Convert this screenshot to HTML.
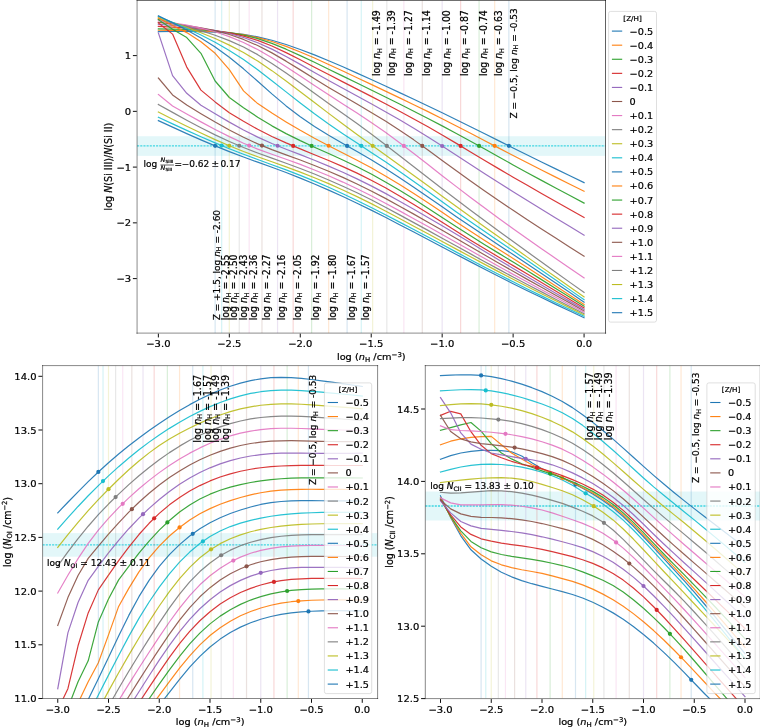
<!DOCTYPE html>
<html><head><meta charset="utf-8"><title>figure</title>
<style>html,body{margin:0;padding:0;background:#fff;}svg{display:block;}text{font-family:'DejaVu Sans', 'Liberation Sans', sans-serif;fill:#000;stroke:#000;stroke-width:0.22px;}</style></head><body>
<svg width="760" height="727" viewBox="0 0 760 727">
<rect width="760" height="727" fill="#fff"/>
<clipPath id="cT"><rect x="137.1" y="0.3" width="468.4" height="332.85"/></clipPath>
<g clip-path="url(#cT)">
<rect x="137.1" y="136.2" width="468.4" height="19.7" fill="#17becf" fill-opacity="0.12"/>
<line x1="137.1" x2="605.5" y1="145.91" y2="145.91" stroke="#2fd2df" stroke-width="1.3" stroke-dasharray="2.1 1.06" stroke-opacity="0.9"/>
<path d="M158.37 31.57 L172.56 31.44 L186.75 31.41 L200.94 31.58 L215.13 32.04 L229.32 32.92 L243.51 34.45 L257.7 36.85 L271.89 40.24 L286.08 44.5 L300.27 49.45 L314.46 54.89 L328.65 60.71 L342.84 66.8 L357.03 73.08 L371.22 79.51 L385.41 86.03 L399.6 92.64 L413.79 99.31 L427.98 106.03 L442.17 112.82 L456.36 119.69 L470.55 126.67 L484.74 133.76 L498.93 140.9 L513.12 148 L527.31 155.02 L541.5 161.97 L555.69 168.88 L569.88 175.75 L584.07 182.6" fill="none" stroke="#1f77b4" stroke-width="1.2" stroke-opacity="0.92" stroke-linejoin="round" stroke-linecap="square"/>
<line x1="508.86" x2="508.86" y1="0.3" y2="333.15" stroke="#1f77b4" stroke-width="1.2" stroke-opacity="0.18"/>
<circle cx="508.86" cy="145.87" r="2.1" fill="#1f77b4"/>
<path d="M158.37 30.27 L172.56 30.3 L186.75 30.46 L200.94 30.84 L215.13 31.57 L229.32 32.77 L243.51 34.7 L257.7 37.59 L271.89 41.54 L286.08 46.42 L300.27 52.01 L314.46 58.07 L328.65 64.45 L342.84 71.01 L357.03 77.68 L371.22 84.39 L385.41 91.12 L399.6 97.88 L413.79 104.69 L427.98 111.6 L442.17 118.67 L456.36 125.91 L470.55 133.26 L484.74 140.68 L498.93 148.1 L513.12 155.46 L527.31 162.73 L541.5 169.94 L555.69 177.09 L569.88 184.21 L584.07 191.31" fill="none" stroke="#ff7f0e" stroke-width="1.2" stroke-opacity="0.92" stroke-linejoin="round" stroke-linecap="square"/>
<line x1="494.67" x2="494.67" y1="0.3" y2="333.15" stroke="#ff7f0e" stroke-width="1.2" stroke-opacity="0.18"/>
<circle cx="494.67" cy="145.87" r="2.1" fill="#ff7f0e"/>
<path d="M158.37 28.86 L172.56 29.06 L186.75 29.39 L200.94 30 L215.13 31.02 L229.32 32.62 L243.51 35.06 L257.7 38.62 L271.89 43.4 L286.08 49.18 L300.27 55.59 L314.46 62.33 L328.65 69.23 L342.84 76.15 L357.03 83.06 L371.22 90 L385.41 96.97 L399.6 104.02 L413.79 111.17 L427.98 118.43 L442.17 125.85 L456.36 133.46 L470.55 141.22 L484.74 149.1 L498.93 157.03 L513.12 164.9 L527.31 172.67 L541.5 180.35 L555.69 187.97 L569.88 195.55 L584.07 203.11" fill="none" stroke="#2ca02c" stroke-width="1.2" stroke-opacity="0.92" stroke-linejoin="round" stroke-linecap="square"/>
<line x1="479.06" x2="479.06" y1="0.3" y2="333.15" stroke="#2ca02c" stroke-width="1.2" stroke-opacity="0.18"/>
<circle cx="479.06" cy="145.95" r="2.1" fill="#2ca02c"/>
<path d="M158.37 26.35 L172.56 27.03 L186.75 27.86 L200.94 29 L215.13 30.62 L229.32 32.88 L243.51 36.06 L257.7 40.42 L271.89 46.03 L286.08 52.64 L300.27 59.8 L314.46 67.18 L328.65 74.58 L342.84 81.87 L357.03 89.11 L371.22 96.38 L385.41 103.76 L399.6 111.27 L413.79 118.95 L427.98 126.85 L442.17 134.99 L456.36 143.37 L470.55 151.9 L484.74 160.43 L498.93 168.86 L513.12 177.17 L527.31 185.35 L541.5 193.44 L555.69 201.45 L569.88 209.42 L584.07 217.36" fill="none" stroke="#d62728" stroke-width="1.2" stroke-opacity="0.92" stroke-linejoin="round" stroke-linecap="square"/>
<line x1="460.62" x2="460.62" y1="0.3" y2="333.15" stroke="#d62728" stroke-width="1.2" stroke-opacity="0.18"/>
<circle cx="460.62" cy="145.93" r="2.1" fill="#d62728"/>
<path d="M158.37 24.44 L172.56 25.45 L186.75 26.66 L200.94 28.27 L215.13 30.48 L229.32 33.48 L243.51 37.49 L257.7 42.69 L271.89 49.1 L286.08 56.48 L300.27 64.39 L314.46 72.47 L328.65 80.51 L342.84 88.34 L357.03 96.06 L371.22 103.81 L385.41 111.71 L399.6 119.84 L413.79 128.27 L427.98 136.98 L442.17 145.99 L456.36 155.26 L470.55 164.56 L484.74 173.78 L498.93 182.83 L513.12 191.71 L527.31 200.51 L541.5 209.24 L555.69 217.92 L569.88 226.57 L584.07 235.2" fill="none" stroke="#9467bd" stroke-width="1.2" stroke-opacity="0.92" stroke-linejoin="round" stroke-linecap="square"/>
<line x1="442.17" x2="442.17" y1="0.3" y2="333.15" stroke="#9467bd" stroke-width="1.2" stroke-opacity="0.18"/>
<circle cx="442.17" cy="145.99" r="2.1" fill="#9467bd"/>
<path d="M158.37 22.43 L172.56 23.88 L186.75 25.58 L200.94 27.75 L215.13 30.66 L229.32 34.5 L243.51 39.43 L257.7 45.57 L271.89 52.89 L286.08 61.14 L300.27 69.88 L314.46 78.72 L328.65 87.42 L342.84 95.83 L357.03 104.09 L371.22 112.44 L385.41 121.08 L399.6 130.19 L413.79 139.87 L427.98 150.03 L442.17 160.41 L456.36 170.8 L470.55 181.01 L484.74 191.01 L498.93 200.79 L513.12 210.35 L527.31 219.74 L541.5 228.98 L555.69 238.12 L569.88 247.18 L584.07 256.21" fill="none" stroke="#8c564b" stroke-width="1.2" stroke-opacity="0.92" stroke-linejoin="round" stroke-linecap="square"/>
<line x1="422.3" x2="422.3" y1="0.3" y2="333.15" stroke="#8c564b" stroke-width="1.2" stroke-opacity="0.18"/>
<circle cx="422.3" cy="145.96" r="2.1" fill="#8c564b"/>
<path d="M158.37 20.72 L172.56 22.79 L186.75 25.14 L200.94 28.05 L215.13 31.78 L229.32 36.58 L243.51 42.5 L257.7 49.56 L271.89 57.68 L286.08 66.64 L300.27 76.03 L314.46 85.51 L328.65 94.87 L342.84 103.98 L357.03 113.06 L371.22 122.41 L385.41 132.24 L399.6 142.67 L413.79 153.53 L427.98 164.59 L442.17 175.66 L456.36 186.64 L470.55 197.44 L484.74 208.03 L498.93 218.45 L513.12 228.69 L527.31 238.74 L541.5 248.65 L555.69 258.43 L569.88 268.14 L584.07 277.81" fill="none" stroke="#e377c2" stroke-width="1.2" stroke-opacity="0.92" stroke-linejoin="round" stroke-linecap="square"/>
<line x1="403.86" x2="403.86" y1="0.3" y2="333.15" stroke="#e377c2" stroke-width="1.2" stroke-opacity="0.18"/>
<circle cx="403.86" cy="145.93" r="2.1" fill="#e377c2"/>
<path d="M158.37 19.24 L172.56 22.77 L186.75 26.48 L200.94 30.57 L215.13 35.24 L229.32 40.67 L243.51 47.07 L257.7 54.65 L271.89 63.39 L286.08 73.01 L300.27 83.09 L314.46 93.29 L328.65 103.45 L342.84 113.49 L357.03 123.6 L371.22 134.04 L385.41 144.81 L399.6 155.78 L413.79 166.82 L427.98 177.81 L442.17 188.7 L456.36 199.49 L470.55 210.17 L484.74 220.75 L498.93 231.21 L513.12 241.56 L527.31 251.84 L541.5 262.06 L555.69 272.23 L569.88 282.38 L584.07 292.5" fill="none" stroke="#7f7f7f" stroke-width="1.2" stroke-opacity="0.92" stroke-linejoin="round" stroke-linecap="square"/>
<line x1="386.83" x2="386.83" y1="0.3" y2="333.15" stroke="#7f7f7f" stroke-width="1.2" stroke-opacity="0.18"/>
<circle cx="386.83" cy="145.91" r="2.1" fill="#7f7f7f"/>
<path d="M158.37 17.75 L172.56 22.51 L186.75 27.44 L200.94 32.74 L215.13 38.56 L229.32 45.1 L243.51 52.55 L257.7 61.07 L271.89 70.64 L286.08 80.99 L300.27 91.73 L314.46 102.59 L328.65 113.38 L342.84 123.97 L357.03 134.41 L371.22 144.78 L385.41 155.02 L399.6 165.2 L413.79 175.41 L427.98 185.75 L442.17 196.19 L456.36 206.59 L470.55 216.84 L484.74 226.96 L498.93 237.02 L513.12 247.09 L527.31 257.12 L541.5 267.12 L555.69 277.09 L569.88 287.05 L584.07 297" fill="none" stroke="#bcbd22" stroke-width="1.2" stroke-opacity="0.92" stroke-linejoin="round" stroke-linecap="square"/>
<line x1="372.64" x2="372.64" y1="0.3" y2="333.15" stroke="#bcbd22" stroke-width="1.2" stroke-opacity="0.18"/>
<circle cx="372.64" cy="145.8" r="2.1" fill="#bcbd22"/>
<path d="M158.37 16.43 L172.56 22.33 L186.75 28.46 L200.94 35.05 L215.13 42.33 L229.32 50.49 L243.51 59.61 L257.7 69.74 L271.89 80.65 L286.08 91.9 L300.27 103.02 L314.46 113.74 L328.65 123.97 L342.84 133.69 L357.03 143.08 L371.22 152.38 L385.41 161.85 L399.6 171.55 L413.79 181.49 L427.98 191.61 L442.17 201.81 L456.36 211.94 L470.55 221.86 L484.74 231.58 L498.93 241.21 L513.12 250.84 L527.31 260.53 L541.5 270.27 L555.69 280.06 L569.88 289.87 L584.07 299.7" fill="none" stroke="#17becf" stroke-width="1.2" stroke-opacity="0.92" stroke-linejoin="round" stroke-linecap="square"/>
<line x1="361.29" x2="361.29" y1="0.3" y2="333.15" stroke="#17becf" stroke-width="1.2" stroke-opacity="0.18"/>
<circle cx="361.29" cy="145.87" r="2.1" fill="#17becf"/>
<path d="M158.37 15.89 L172.56 22.76 L186.75 30 L200.94 37.97 L215.13 46.99 L229.32 57.3 L243.51 68.83 L257.7 81.27 L271.89 93.9 L286.08 105.9 L300.27 116.77 L314.46 126.45 L328.65 135.25 L342.84 143.5 L357.03 151.56 L371.22 159.8 L385.41 168.51 L399.6 177.67 L413.79 187.16 L427.98 196.92 L442.17 206.82 L456.36 216.68 L470.55 226.34 L484.74 235.78 L498.93 245.13 L513.12 254.5 L527.31 263.93 L541.5 273.44 L555.69 283 L569.88 292.59 L584.07 302.19" fill="none" stroke="#1f77b4" stroke-width="1.2" stroke-opacity="0.92" stroke-linejoin="round" stroke-linecap="square"/>
<line x1="347.1" x2="347.1" y1="0.3" y2="333.15" stroke="#1f77b4" stroke-width="1.2" stroke-opacity="0.18"/>
<circle cx="347.1" cy="145.92" r="2.1" fill="#1f77b4"/>
<path d="M158.37 18.1 L172.56 25.5 L186.75 32.6 L200.94 41.8 L215.13 53.3 L229.32 69.6 L243.51 90.9 L257.7 103.6 L271.89 113.11 L286.08 121.91 L300.27 130.35 L314.46 138.29 L328.65 145.77 L342.84 152.94 L357.03 160.21 L371.22 167.83 L385.41 175.92 L399.6 184.47 L413.79 193.46 L427.98 202.81 L442.17 212.37 L456.36 221.93 L470.55 231.27 L484.74 240.39 L498.93 249.4 L513.12 258.41 L527.31 267.51 L541.5 276.67 L555.69 285.88 L569.88 295.13 L584.07 304.39" fill="none" stroke="#ff7f0e" stroke-width="1.2" stroke-opacity="0.92" stroke-linejoin="round" stroke-linecap="square"/>
<line x1="328.65" x2="328.65" y1="0.3" y2="333.15" stroke="#ff7f0e" stroke-width="1.2" stroke-opacity="0.18"/>
<circle cx="328.65" cy="145.77" r="2.1" fill="#ff7f0e"/>
<path d="M158.37 19.7 L172.56 29.3 L186.75 37.6 L200.94 53.3 L215.13 81 L229.32 97.5 L243.51 107.77 L257.7 117.21 L271.89 125.86 L286.08 133.61 L300.27 140.64 L314.46 147.19 L328.65 153.55 L342.84 160 L357.03 166.79 L371.22 174.09 L385.41 181.95 L399.6 190.31 L413.79 199.06 L427.98 208.15 L442.17 217.45 L456.36 226.74 L470.55 235.81 L484.74 244.65 L498.93 253.37 L513.12 262.07 L527.31 270.83 L541.5 279.63 L555.69 288.47 L569.88 297.33 L584.07 306.2" fill="none" stroke="#2ca02c" stroke-width="1.2" stroke-opacity="0.92" stroke-linejoin="round" stroke-linecap="square"/>
<line x1="311.62" x2="311.62" y1="0.3" y2="333.15" stroke="#2ca02c" stroke-width="1.2" stroke-opacity="0.18"/>
<circle cx="311.62" cy="145.88" r="2.1" fill="#2ca02c"/>
<path d="M158.37 22.9 L172.56 34.1 L186.75 67.1 L200.94 90.1 L215.13 101.9 L229.32 112.68 L243.51 121.26 L257.7 129.32 L271.89 136.51 L286.08 142.92 L300.27 148.9 L314.46 154.7 L328.65 160.55 L342.84 166.63 L357.03 173.14 L371.22 180.2 L385.41 187.83 L399.6 195.95 L413.79 204.44 L427.98 213.26 L442.17 222.3 L456.36 231.34 L470.55 240.17 L484.74 248.76 L498.93 257.21 L513.12 265.63 L527.31 274.05 L541.5 282.5 L555.69 290.96 L569.88 299.43 L584.07 307.9" fill="none" stroke="#d62728" stroke-width="1.2" stroke-opacity="0.92" stroke-linejoin="round" stroke-linecap="square"/>
<line x1="293.18" x2="293.18" y1="0.3" y2="333.15" stroke="#d62728" stroke-width="1.2" stroke-opacity="0.18"/>
<circle cx="293.18" cy="145.91" r="2.1" fill="#d62728"/>
<path d="M158.37 33 L172.56 75.6 L186.75 93.3 L200.94 105.18 L215.13 113.79 L229.32 122.14 L243.51 130 L257.7 137.15 L271.89 143.49 L286.08 149.19 L300.27 154.68 L314.46 160.29 L328.65 166.12 L342.84 172.27 L357.03 178.86 L371.22 185.9 L385.41 193.4 L399.6 201.23 L413.79 209.26 L427.98 217.46 L442.17 225.82 L456.36 234.31 L470.55 242.85 L484.74 251.42 L498.93 259.96 L513.12 268.41 L527.31 276.76 L541.5 285.02 L555.69 293.22 L569.88 301.37 L584.07 309.51" fill="none" stroke="#9467bd" stroke-width="1.2" stroke-opacity="0.92" stroke-linejoin="round" stroke-linecap="square"/>
<line x1="277.57" x2="277.57" y1="0.3" y2="333.15" stroke="#9467bd" stroke-width="1.2" stroke-opacity="0.18"/>
<circle cx="277.57" cy="145.77" r="2.1" fill="#9467bd"/>
<path d="M158.37 78 L172.56 94.9 L186.75 105.07 L200.94 113.65 L215.13 122 L229.32 129.92 L243.51 137.26 L257.7 143.87 L271.89 149.63 L286.08 154.83 L300.27 160 L314.46 165.45 L328.65 171.22 L342.84 177.36 L357.03 183.93 L371.22 190.94 L385.41 198.4 L399.6 206.18 L413.79 214.11 L427.98 222.15 L442.17 230.3 L456.36 238.52 L470.55 246.77 L484.74 255.02 L498.93 263.23 L513.12 271.35 L527.31 279.38 L541.5 287.34 L555.69 295.23 L569.88 303.08 L584.07 310.91" fill="none" stroke="#8c564b" stroke-width="1.2" stroke-opacity="0.92" stroke-linejoin="round" stroke-linecap="square"/>
<line x1="261.96" x2="261.96" y1="0.3" y2="333.15" stroke="#8c564b" stroke-width="1.2" stroke-opacity="0.18"/>
<circle cx="261.96" cy="145.6" r="2.1" fill="#8c564b"/>
<path d="M158.37 94.5 L172.56 106.04 L186.75 114.02 L200.94 121.86 L215.13 129.43 L229.32 136.59 L243.51 143.21 L257.7 149.08 L271.89 154.3 L286.08 159.28 L300.27 164.43 L314.46 169.94 L328.65 175.82 L342.84 182.08 L357.03 188.72 L371.22 195.75 L385.41 203.19 L399.6 210.9 L413.79 218.72 L427.98 226.6 L442.17 234.57 L456.36 242.58 L470.55 250.6 L484.74 258.59 L498.93 266.53 L513.12 274.36 L527.31 282.09 L541.5 289.72 L555.69 297.29 L569.88 304.81 L584.07 312.31" fill="none" stroke="#e377c2" stroke-width="1.2" stroke-opacity="0.92" stroke-linejoin="round" stroke-linecap="square"/>
<line x1="249.19" x2="249.19" y1="0.3" y2="333.15" stroke="#e377c2" stroke-width="1.2" stroke-opacity="0.18"/>
<circle cx="249.19" cy="145.56" r="2.1" fill="#e377c2"/>
<path d="M158.37 104.44 L172.56 112.37 L186.75 120.16 L200.94 127.7 L215.13 134.86 L229.32 141.5 L243.51 147.56 L257.7 153.04 L271.89 158.18 L286.08 163.23 L300.27 168.46 L314.46 174.03 L328.65 179.93 L342.84 186.19 L357.03 192.81 L371.22 199.81 L385.41 207.21 L399.6 214.86 L413.79 222.6 L427.98 230.37 L442.17 238.19 L456.36 246.04 L470.55 253.88 L484.74 261.67 L498.93 269.39 L513.12 277 L527.31 284.49 L541.5 291.88 L555.69 299.2 L569.88 306.46 L584.07 313.71" fill="none" stroke="#7f7f7f" stroke-width="1.2" stroke-opacity="0.92" stroke-linejoin="round" stroke-linecap="square"/>
<line x1="239.25" x2="239.25" y1="0.3" y2="333.15" stroke="#7f7f7f" stroke-width="1.2" stroke-opacity="0.18"/>
<circle cx="239.25" cy="145.74" r="2.1" fill="#7f7f7f"/>
<path d="M158.37 112.03 L172.56 119.17 L186.75 126.21 L200.94 133.07 L215.13 139.63 L229.32 145.81 L243.51 151.48 L257.7 156.75 L271.89 161.8 L286.08 166.84 L300.27 172.11 L314.46 177.72 L328.65 183.67 L342.84 189.97 L357.03 196.61 L371.22 203.61 L385.41 210.97 L399.6 218.56 L413.79 226.19 L427.98 233.82 L442.17 241.48 L456.36 249.14 L470.55 256.78 L484.74 264.36 L498.93 271.86 L513.12 279.25 L527.31 286.53 L541.5 293.71 L555.69 300.81 L569.88 307.87 L584.07 314.91" fill="none" stroke="#bcbd22" stroke-width="1.2" stroke-opacity="0.92" stroke-linejoin="round" stroke-linecap="square"/>
<line x1="229.32" x2="229.32" y1="0.3" y2="333.15" stroke="#bcbd22" stroke-width="1.2" stroke-opacity="0.18"/>
<circle cx="229.32" cy="145.81" r="2.1" fill="#bcbd22"/>
<path d="M158.37 117.32 L172.56 123.91 L186.75 130.42 L200.94 136.78 L215.13 142.91 L229.32 148.75 L243.51 154.27 L257.7 159.54 L271.89 164.69 L286.08 169.9 L300.27 175.37 L314.46 181.18 L328.65 187.32 L342.84 193.76 L357.03 200.46 L371.22 207.44 L385.41 214.7 L399.6 222.12 L413.79 229.55 L427.98 237.01 L442.17 244.54 L456.36 252.11 L470.55 259.66 L484.74 267.16 L498.93 274.57 L513.12 281.83 L527.31 288.92 L541.5 295.88 L555.69 302.75 L569.88 309.55 L584.07 316.31" fill="none" stroke="#17becf" stroke-width="1.2" stroke-opacity="0.92" stroke-linejoin="round" stroke-linecap="square"/>
<line x1="221.66" x2="221.66" y1="0.3" y2="333.15" stroke="#17becf" stroke-width="1.2" stroke-opacity="0.18"/>
<circle cx="221.66" cy="145.6" r="2.1" fill="#17becf"/>
<path d="M158.37 120.63 L172.56 127.14 L186.75 133.58 L200.94 139.85 L215.13 145.87 L229.32 151.57 L243.51 156.96 L257.7 162.14 L271.89 167.28 L286.08 172.55 L300.27 178.1 L314.46 183.97 L328.65 190.13 L342.84 196.56 L357.03 203.21 L371.22 210.12 L385.41 217.3 L399.6 224.66 L413.79 232.05 L427.98 239.46 L442.17 246.93 L456.36 254.41 L470.55 261.87 L484.74 269.27 L498.93 276.56 L513.12 283.71 L527.31 290.7 L541.5 297.57 L555.69 304.34 L569.88 311.04 L584.07 317.71" fill="none" stroke="#1f77b4" stroke-width="1.2" stroke-opacity="0.92" stroke-linejoin="round" stroke-linecap="square"/>
<line x1="215.13" x2="215.13" y1="0.3" y2="333.15" stroke="#1f77b4" stroke-width="1.2" stroke-opacity="0.18"/>
<circle cx="215.13" cy="145.87" r="2.1" fill="#1f77b4"/>
</g>
<text transform="translate(516.66 8.2) scale(1 0.9566) rotate(-90)" text-anchor="end" font-size="9.4">Z = −0.5, log <tspan font-style="italic">n</tspan><tspan font-size="6.6" dy="1.5">H</tspan><tspan dy="-1.5"> = -0.53</tspan></text>
<text transform="translate(502.47 10.2) scale(1 0.9566) rotate(-90)" text-anchor="end" font-size="9.78">log <tspan font-style="italic">n</tspan><tspan font-size="6.6" dy="1.5">H</tspan><tspan dy="-1.5"> = -0.63</tspan></text>
<text transform="translate(486.86 10.2) scale(1 0.9566) rotate(-90)" text-anchor="end" font-size="9.78">log <tspan font-style="italic">n</tspan><tspan font-size="6.6" dy="1.5">H</tspan><tspan dy="-1.5"> = -0.74</tspan></text>
<text transform="translate(468.42 10.2) scale(1 0.9566) rotate(-90)" text-anchor="end" font-size="9.78">log <tspan font-style="italic">n</tspan><tspan font-size="6.6" dy="1.5">H</tspan><tspan dy="-1.5"> = -0.87</tspan></text>
<text transform="translate(449.97 10.2) scale(1 0.9566) rotate(-90)" text-anchor="end" font-size="9.78">log <tspan font-style="italic">n</tspan><tspan font-size="6.6" dy="1.5">H</tspan><tspan dy="-1.5"> = -1.00</tspan></text>
<text transform="translate(430.1 10.2) scale(1 0.9566) rotate(-90)" text-anchor="end" font-size="9.78">log <tspan font-style="italic">n</tspan><tspan font-size="6.6" dy="1.5">H</tspan><tspan dy="-1.5"> = -1.14</tspan></text>
<text transform="translate(411.66 10.2) scale(1 0.9566) rotate(-90)" text-anchor="end" font-size="9.78">log <tspan font-style="italic">n</tspan><tspan font-size="6.6" dy="1.5">H</tspan><tspan dy="-1.5"> = -1.27</tspan></text>
<text transform="translate(394.63 10.2) scale(1 0.9566) rotate(-90)" text-anchor="end" font-size="9.78">log <tspan font-style="italic">n</tspan><tspan font-size="6.6" dy="1.5">H</tspan><tspan dy="-1.5"> = -1.39</tspan></text>
<text transform="translate(380.44 10.2) scale(1 0.9566) rotate(-90)" text-anchor="end" font-size="9.78">log <tspan font-style="italic">n</tspan><tspan font-size="6.6" dy="1.5">H</tspan><tspan dy="-1.5"> = -1.49</tspan></text>
<text transform="translate(369.09 320.3) scale(1 0.9566) rotate(-90)" font-size="9.78">log <tspan font-style="italic">n</tspan><tspan font-size="6.6" dy="1.5">H</tspan><tspan dy="-1.5"> = -1.57</tspan></text>
<text transform="translate(354.9 320.3) scale(1 0.9566) rotate(-90)" font-size="9.78">log <tspan font-style="italic">n</tspan><tspan font-size="6.6" dy="1.5">H</tspan><tspan dy="-1.5"> = -1.67</tspan></text>
<text transform="translate(336.45 320.3) scale(1 0.9566) rotate(-90)" font-size="9.78">log <tspan font-style="italic">n</tspan><tspan font-size="6.6" dy="1.5">H</tspan><tspan dy="-1.5"> = -1.80</tspan></text>
<text transform="translate(319.42 320.3) scale(1 0.9566) rotate(-90)" font-size="9.78">log <tspan font-style="italic">n</tspan><tspan font-size="6.6" dy="1.5">H</tspan><tspan dy="-1.5"> = -1.92</tspan></text>
<text transform="translate(300.98 320.3) scale(1 0.9566) rotate(-90)" font-size="9.78">log <tspan font-style="italic">n</tspan><tspan font-size="6.6" dy="1.5">H</tspan><tspan dy="-1.5"> = -2.05</tspan></text>
<text transform="translate(285.37 320.3) scale(1 0.9566) rotate(-90)" font-size="9.78">log <tspan font-style="italic">n</tspan><tspan font-size="6.6" dy="1.5">H</tspan><tspan dy="-1.5"> = -2.16</tspan></text>
<text transform="translate(269.76 320.3) scale(1 0.9566) rotate(-90)" font-size="9.78">log <tspan font-style="italic">n</tspan><tspan font-size="6.6" dy="1.5">H</tspan><tspan dy="-1.5"> = -2.27</tspan></text>
<text transform="translate(256.99 320.3) scale(1 0.9566) rotate(-90)" font-size="9.78">log <tspan font-style="italic">n</tspan><tspan font-size="6.6" dy="1.5">H</tspan><tspan dy="-1.5"> = -2.36</tspan></text>
<text transform="translate(247.05 320.3) scale(1 0.9566) rotate(-90)" font-size="9.78">log <tspan font-style="italic">n</tspan><tspan font-size="6.6" dy="1.5">H</tspan><tspan dy="-1.5"> = -2.43</tspan></text>
<text transform="translate(237.12 320.3) scale(1 0.9566) rotate(-90)" font-size="9.78">log <tspan font-style="italic">n</tspan><tspan font-size="6.6" dy="1.5">H</tspan><tspan dy="-1.5"> = -2.50</tspan></text>
<text transform="translate(229.46 320.3) scale(1 0.9566) rotate(-90)" font-size="9.78">log <tspan font-style="italic">n</tspan><tspan font-size="6.6" dy="1.5">H</tspan><tspan dy="-1.5"> = -2.55</tspan></text>
<text transform="translate(219.93 320.3) scale(1 0.9566) rotate(-90)" font-size="9.4">Z = +1.5, log <tspan font-style="italic">n</tspan><tspan font-size="6.6" dy="1.5">H</tspan><tspan dy="-1.5"> = -2.60</tspan></text>
<line x1="137.1" y1="0.3" x2="137.1" y2="333.15" stroke="#000" stroke-width="1.4" stroke-opacity="0.33" stroke-linecap="square"/>
<line x1="137.1" y1="333.15" x2="605.5" y2="333.15" stroke="#000" stroke-width="1.3" stroke-opacity="0.36" stroke-linecap="square"/>
<line x1="605.5" y1="0.3" x2="605.5" y2="333.15" stroke="#000" stroke-width="1.0" stroke-opacity="0.62" stroke-linecap="square"/>
<line x1="137.1" y1="0.3" x2="605.5" y2="0.3" stroke="#000" stroke-width="1.0" stroke-opacity="0.7" stroke-linecap="square"/>
<line x1="158.37" x2="158.37" y1="333.65" y2="337.45" stroke="#000" stroke-width="1" stroke-opacity="0.95"/>
<text transform="translate(158.37 347.25) scale(1 0.9566)" text-anchor="middle" font-size="10">−3.0</text>
<line x1="229.32" x2="229.32" y1="333.65" y2="337.45" stroke="#000" stroke-width="1" stroke-opacity="0.95"/>
<text transform="translate(229.32 347.25) scale(1 0.9566)" text-anchor="middle" font-size="10">−2.5</text>
<line x1="300.27" x2="300.27" y1="333.65" y2="337.45" stroke="#000" stroke-width="1" stroke-opacity="0.95"/>
<text transform="translate(300.27 347.25) scale(1 0.9566)" text-anchor="middle" font-size="10">−2.0</text>
<line x1="371.22" x2="371.22" y1="333.65" y2="337.45" stroke="#000" stroke-width="1" stroke-opacity="0.95"/>
<text transform="translate(371.22 347.25) scale(1 0.9566)" text-anchor="middle" font-size="10">−1.5</text>
<line x1="442.17" x2="442.17" y1="333.65" y2="337.45" stroke="#000" stroke-width="1" stroke-opacity="0.95"/>
<text transform="translate(442.17 347.25) scale(1 0.9566)" text-anchor="middle" font-size="10">−1.0</text>
<line x1="513.12" x2="513.12" y1="333.65" y2="337.45" stroke="#000" stroke-width="1" stroke-opacity="0.95"/>
<text transform="translate(513.12 347.25) scale(1 0.9566)" text-anchor="middle" font-size="10">−0.5</text>
<line x1="584.07" x2="584.07" y1="333.65" y2="337.45" stroke="#000" stroke-width="1" stroke-opacity="0.95"/>
<text transform="translate(584.07 347.25) scale(1 0.9566)" text-anchor="middle" font-size="10">0.0</text>
<line x1="132.9" x2="136.8" y1="55.6" y2="55.6" stroke="#000" stroke-width="1" stroke-opacity="0.95"/>
<text transform="translate(131.1 59.2) scale(1 0.9566)" text-anchor="end" font-size="10">1</text>
<line x1="132.9" x2="136.8" y1="111.35" y2="111.35" stroke="#000" stroke-width="1" stroke-opacity="0.95"/>
<text transform="translate(131.1 114.95) scale(1 0.9566)" text-anchor="end" font-size="10">0</text>
<line x1="132.9" x2="136.8" y1="167.1" y2="167.1" stroke="#000" stroke-width="1" stroke-opacity="0.95"/>
<text transform="translate(131.1 170.7) scale(1 0.9566)" text-anchor="end" font-size="10">−1</text>
<line x1="132.9" x2="136.8" y1="222.85" y2="222.85" stroke="#000" stroke-width="1" stroke-opacity="0.95"/>
<text transform="translate(131.1 226.45) scale(1 0.9566)" text-anchor="end" font-size="10">−2</text>
<line x1="132.9" x2="136.8" y1="278.6" y2="278.6" stroke="#000" stroke-width="1" stroke-opacity="0.95"/>
<text transform="translate(131.1 282.2) scale(1 0.9566)" text-anchor="end" font-size="10">−3</text>
<text transform="translate(371.3 360.2) scale(1 0.9566)" text-anchor="middle" font-size="9.8">log (<tspan font-style="italic">n</tspan><tspan font-size="7" dy="1.6">H</tspan><tspan dy="-1.6"> /cm</tspan><tspan font-size="7" dy="-3.8">−3</tspan><tspan dy="3.8">)</tspan></text>
<text transform="translate(112.3 166.6) scale(1 0.9566) rotate(-90)" text-anchor="middle" font-size="10">log <tspan font-style="italic">N</tspan>(Si III)/<tspan font-style="italic">N</tspan>(Si II)</text>
<text transform="translate(143.45 167) scale(1 0.9566)" font-size="9">log</text>
<text transform="translate(160.5 161.9) scale(1 0.9566)" font-size="6.3"><tspan font-style="italic">N</tspan><tspan font-size="4.4" dy="1.0" dx="0.2">SiIII</tspan></text>
<line x1="160.4" x2="173.9" y1="165.0" y2="165.0" stroke="#000" stroke-width="0.6"/>
<text transform="translate(160.5 170.1) scale(1 0.9566)" font-size="6.3"><tspan font-style="italic">N</tspan><tspan font-size="4.4" dy="1.0" dx="0.2">SiII</tspan></text>
<text transform="translate(174.6 167) scale(1 0.9566)" font-size="9">=</text>
<text transform="translate(181.7 167) scale(1 0.9566)" font-size="9">−0.62</text>
<text transform="translate(211.45 167) scale(1 0.9566)" font-size="9">±</text>
<text transform="translate(220.4 167) scale(1 0.9566)" font-size="9">0.17</text>
<rect x="608.6" y="11.4" width="47.9" height="310.7" rx="2" ry="2" fill="#fff" fill-opacity="0.8" stroke="#ccc" stroke-opacity="0.8" stroke-width="0.8"/>
<text transform="translate(632.55 20.6) scale(1 0.9566)" text-anchor="middle" font-size="7.2">[Z/H]</text>
<line x1="611.9" x2="622.2" y1="31.1" y2="31.1" stroke="#1f77b4" stroke-width="1.1"/>
<text transform="translate(629.6 34.55) scale(1 0.9566)" font-size="9.7">−0.5</text>
<line x1="611.9" x2="622.2" y1="45.18" y2="45.18" stroke="#ff7f0e" stroke-width="1.1"/>
<text transform="translate(629.6 48.63) scale(1 0.9566)" font-size="9.7">−0.4</text>
<line x1="611.9" x2="622.2" y1="59.26" y2="59.26" stroke="#2ca02c" stroke-width="1.1"/>
<text transform="translate(629.6 62.71) scale(1 0.9566)" font-size="9.7">−0.3</text>
<line x1="611.9" x2="622.2" y1="73.34" y2="73.34" stroke="#d62728" stroke-width="1.1"/>
<text transform="translate(629.6 76.79) scale(1 0.9566)" font-size="9.7">−0.2</text>
<line x1="611.9" x2="622.2" y1="87.42" y2="87.42" stroke="#9467bd" stroke-width="1.1"/>
<text transform="translate(629.6 90.87) scale(1 0.9566)" font-size="9.7">−0.1</text>
<line x1="611.9" x2="622.2" y1="101.5" y2="101.5" stroke="#8c564b" stroke-width="1.1"/>
<text transform="translate(629.6 104.95) scale(1 0.9566)" font-size="9.7">0</text>
<line x1="611.9" x2="622.2" y1="115.58" y2="115.58" stroke="#e377c2" stroke-width="1.1"/>
<text transform="translate(629.6 119.03) scale(1 0.9566)" font-size="9.7">+0.1</text>
<line x1="611.9" x2="622.2" y1="129.66" y2="129.66" stroke="#7f7f7f" stroke-width="1.1"/>
<text transform="translate(629.6 133.11) scale(1 0.9566)" font-size="9.7">+0.2</text>
<line x1="611.9" x2="622.2" y1="143.74" y2="143.74" stroke="#bcbd22" stroke-width="1.1"/>
<text transform="translate(629.6 147.19) scale(1 0.9566)" font-size="9.7">+0.3</text>
<line x1="611.9" x2="622.2" y1="157.82" y2="157.82" stroke="#17becf" stroke-width="1.1"/>
<text transform="translate(629.6 161.27) scale(1 0.9566)" font-size="9.7">+0.4</text>
<line x1="611.9" x2="622.2" y1="171.9" y2="171.9" stroke="#1f77b4" stroke-width="1.1"/>
<text transform="translate(629.6 175.35) scale(1 0.9566)" font-size="9.7">+0.5</text>
<line x1="611.9" x2="622.2" y1="185.98" y2="185.98" stroke="#ff7f0e" stroke-width="1.1"/>
<text transform="translate(629.6 189.43) scale(1 0.9566)" font-size="9.7">+0.6</text>
<line x1="611.9" x2="622.2" y1="200.06" y2="200.06" stroke="#2ca02c" stroke-width="1.1"/>
<text transform="translate(629.6 203.51) scale(1 0.9566)" font-size="9.7">+0.7</text>
<line x1="611.9" x2="622.2" y1="214.14" y2="214.14" stroke="#d62728" stroke-width="1.1"/>
<text transform="translate(629.6 217.59) scale(1 0.9566)" font-size="9.7">+0.8</text>
<line x1="611.9" x2="622.2" y1="228.22" y2="228.22" stroke="#9467bd" stroke-width="1.1"/>
<text transform="translate(629.6 231.67) scale(1 0.9566)" font-size="9.7">+0.9</text>
<line x1="611.9" x2="622.2" y1="242.3" y2="242.3" stroke="#8c564b" stroke-width="1.1"/>
<text transform="translate(629.6 245.75) scale(1 0.9566)" font-size="9.7">+1.0</text>
<line x1="611.9" x2="622.2" y1="256.38" y2="256.38" stroke="#e377c2" stroke-width="1.1"/>
<text transform="translate(629.6 259.83) scale(1 0.9566)" font-size="9.7">+1.1</text>
<line x1="611.9" x2="622.2" y1="270.46" y2="270.46" stroke="#7f7f7f" stroke-width="1.1"/>
<text transform="translate(629.6 273.91) scale(1 0.9566)" font-size="9.7">+1.2</text>
<line x1="611.9" x2="622.2" y1="284.54" y2="284.54" stroke="#bcbd22" stroke-width="1.1"/>
<text transform="translate(629.6 287.99) scale(1 0.9566)" font-size="9.7">+1.3</text>
<line x1="611.9" x2="622.2" y1="298.62" y2="298.62" stroke="#17becf" stroke-width="1.1"/>
<text transform="translate(629.6 302.07) scale(1 0.9566)" font-size="9.7">+1.4</text>
<line x1="611.9" x2="622.2" y1="312.7" y2="312.7" stroke="#1f77b4" stroke-width="1.1"/>
<text transform="translate(629.6 316.15) scale(1 0.9566)" font-size="9.7">+1.5</text>
<clipPath id="cL"><rect x="42.6" y="365.6" width="335" height="332.9"/></clipPath>
<g clip-path="url(#cL)">
<rect x="42.6" y="533.1" width="335" height="23.63" fill="#17becf" fill-opacity="0.12"/>
<line x1="42.6" x2="377.6" y1="544.92" y2="544.92" stroke="#2fd2df" stroke-width="1.3" stroke-dasharray="2.1 1.06" stroke-opacity="0.9"/>
<path d="M57.75 834 L67.9 821.24 L78.05 808.48 L88.2 795.7 L98.35 782.9 L108.5 770.08 L118.65 757.23 L128.8 744.34 L138.95 731.4 L149.1 718.42 L159.25 705.39 L169.4 692.29 L179.55 679.37 L189.7 667.2 L199.85 656.33 L210 646.98 L220.15 639.1 L230.3 632.54 L240.45 627.14 L250.6 622.75 L260.75 619.23 L270.9 616.47 L281.05 614.39 L291.2 612.89 L301.35 611.88 L311.5 611.25 L321.65 610.91 L331.8 610.76 L341.95 610.73 L352.1 610.79 L362.25 610.89" fill="none" stroke="#1f77b4" stroke-width="1.2" stroke-opacity="0.92" stroke-linejoin="round" stroke-linecap="square"/>
<line x1="308.45" x2="308.45" y1="365.6" y2="698.5" stroke="#1f77b4" stroke-width="1.2" stroke-opacity="0.18"/>
<circle cx="308.45" cy="611.44" r="2.1" fill="#1f77b4"/>
<path d="M57.75 830 L67.9 816.74 L78.05 803.46 L88.2 790.16 L98.35 776.83 L108.5 763.44 L118.65 749.99 L128.8 736.47 L138.95 722.87 L149.1 709.17 L159.25 695.36 L169.4 681.55 L179.55 668.21 L189.7 655.85 L199.85 644.91 L210 635.54 L220.15 627.67 L230.3 621.16 L240.45 615.82 L250.6 611.47 L260.75 607.97 L270.9 605.24 L281.05 603.18 L291.2 601.72 L301.35 600.78 L311.5 600.25 L321.65 600 L331.8 599.91 L341.95 599.91 L352.1 599.99 L362.25 600.09" fill="none" stroke="#ff7f0e" stroke-width="1.2" stroke-opacity="0.92" stroke-linejoin="round" stroke-linecap="square"/>
<line x1="298.31" x2="298.31" y1="365.6" y2="698.5" stroke="#ff7f0e" stroke-width="1.2" stroke-opacity="0.18"/>
<circle cx="298.31" cy="601.07" r="2.1" fill="#ff7f0e"/>
<path d="M57.75 826 L67.9 812.09 L78.05 798.15 L88.2 784.18 L98.35 770.16 L108.5 756.08 L118.65 741.92 L128.8 727.66 L138.95 713.29 L149.1 698.78 L159.25 684.19 L169.4 669.87 L179.55 656.28 L189.7 643.91 L199.85 633.1 L210 623.88 L220.15 616.13 L230.3 609.7 L240.45 604.39 L250.6 600.06 L260.75 596.57 L270.9 593.84 L281.05 591.82 L291.2 590.44 L301.35 589.6 L311.5 589.15 L321.65 588.96 L331.8 588.9 L341.95 588.92 L352.1 588.99 L362.25 589.09" fill="none" stroke="#2ca02c" stroke-width="1.2" stroke-opacity="0.92" stroke-linejoin="round" stroke-linecap="square"/>
<line x1="287.14" x2="287.14" y1="365.6" y2="698.5" stroke="#2ca02c" stroke-width="1.2" stroke-opacity="0.18"/>
<circle cx="287.14" cy="590.99" r="2.1" fill="#2ca02c"/>
<path d="M57.75 822.01 L67.9 807.31 L78.05 792.6 L88.2 777.85 L98.35 763.04 L108.5 748.14 L118.65 733.15 L128.8 718.03 L138.95 702.78 L149.1 687.38 L159.25 672.1 L169.4 657.38 L179.55 643.68 L189.7 631.39 L199.85 620.74 L210 611.69 L220.15 604.08 L230.3 597.75 L240.45 592.55 L250.6 588.34 L260.75 584.99 L270.9 582.44 L281.05 580.63 L291.2 579.46 L301.35 578.78 L311.5 578.45 L321.65 578.34 L331.8 578.32 L341.95 578.35 L352.1 578.41 L362.25 578.5" fill="none" stroke="#d62728" stroke-width="1.2" stroke-opacity="0.92" stroke-linejoin="round" stroke-linecap="square"/>
<line x1="273.94" x2="273.94" y1="365.6" y2="698.5" stroke="#d62728" stroke-width="1.2" stroke-opacity="0.18"/>
<circle cx="273.94" cy="581.9" r="2.1" fill="#d62728"/>
<path d="M57.75 818 L67.9 802.37 L78.05 786.72 L88.2 771.04 L98.35 755.32 L108.5 739.54 L118.65 723.69 L128.8 707.76 L138.95 691.73 L149.1 675.73 L159.25 660.13 L169.4 645.29 L179.55 631.58 L189.7 619.34 L199.85 608.72 L210 599.68 L220.15 592.02 L230.3 585.63 L240.45 580.38 L250.6 576.14 L260.75 572.85 L270.9 570.47 L281.05 568.88 L291.2 567.93 L301.35 567.45 L311.5 567.31 L321.65 567.33 L331.8 567.4 L341.95 567.46 L352.1 567.53 L362.25 567.6" fill="none" stroke="#9467bd" stroke-width="1.2" stroke-opacity="0.92" stroke-linejoin="round" stroke-linecap="square"/>
<line x1="260.75" x2="260.75" y1="365.6" y2="698.5" stroke="#9467bd" stroke-width="1.2" stroke-opacity="0.18"/>
<circle cx="260.75" cy="572.85" r="2.1" fill="#9467bd"/>
<path d="M57.75 811.99 L67.9 795.36 L78.05 778.74 L88.2 762.16 L98.35 745.62 L108.5 729.16 L118.65 712.78 L128.8 696.5 L138.95 680.38 L149.1 664.52 L159.25 649.08 L169.4 634.21 L179.55 620.19 L189.7 607.62 L199.85 596.8 L210 587.66 L220.15 580.03 L230.3 573.75 L240.45 568.7 L250.6 564.74 L260.75 561.73 L270.9 559.55 L281.05 558.06 L291.2 557.14 L301.35 556.64 L311.5 556.45 L321.65 556.42 L331.8 556.45 L341.95 556.49 L352.1 556.54 L362.25 556.6" fill="none" stroke="#8c564b" stroke-width="1.2" stroke-opacity="0.92" stroke-linejoin="round" stroke-linecap="square"/>
<line x1="246.54" x2="246.54" y1="365.6" y2="698.5" stroke="#8c564b" stroke-width="1.2" stroke-opacity="0.18"/>
<circle cx="246.54" cy="566.32" r="2.1" fill="#8c564b"/>
<path d="M57.75 804.98 L67.9 787.21 L78.05 769.51 L88.2 751.92 L98.35 734.53 L108.5 717.38 L118.65 700.54 L128.8 684.07 L138.95 667.96 L149.1 652.22 L159.25 636.85 L169.4 621.99 L179.55 608.05 L189.7 595.57 L199.85 584.8 L210 575.72 L220.15 568.17 L230.3 562.01 L240.45 557.09 L250.6 553.27 L260.75 550.38 L270.9 548.3 L281.05 546.9 L291.2 546.03 L301.35 545.59 L311.5 545.42 L321.65 545.42 L331.8 545.45 L341.95 545.5 L352.1 545.55 L362.25 545.6" fill="none" stroke="#e377c2" stroke-width="1.2" stroke-opacity="0.92" stroke-linejoin="round" stroke-linecap="square"/>
<line x1="233.34" x2="233.34" y1="365.6" y2="698.5" stroke="#e377c2" stroke-width="1.2" stroke-opacity="0.18"/>
<circle cx="233.34" cy="560.53" r="2.1" fill="#e377c2"/>
<path d="M57.75 799.97 L67.9 780.86 L78.05 761.84 L88.2 743.01 L98.35 724.45 L108.5 706.25 L118.65 688.51 L128.8 671.31 L138.95 654.69 L149.1 638.58 L159.25 622.89 L169.4 607.88 L179.55 594.09 L189.7 581.92 L199.85 571.56 L210 562.92 L220.15 555.84 L230.3 550.17 L240.45 545.69 L250.6 542.21 L260.75 539.55 L270.9 537.6 L281.05 536.24 L291.2 535.38 L301.35 534.89 L311.5 534.66 L321.65 534.6 L331.8 534.59 L341.95 534.61 L352.1 534.65 L362.25 534.7" fill="none" stroke="#7f7f7f" stroke-width="1.2" stroke-opacity="0.92" stroke-linejoin="round" stroke-linecap="square"/>
<line x1="221.17" x2="221.17" y1="365.6" y2="698.5" stroke="#7f7f7f" stroke-width="1.2" stroke-opacity="0.18"/>
<circle cx="221.17" cy="555.27" r="2.1" fill="#7f7f7f"/>
<path d="M57.75 789.96 L67.9 769.64 L78.05 749.46 L88.2 729.55 L98.35 710.07 L108.5 691.14 L118.65 672.83 L128.8 655.12 L138.95 638.03 L149.1 621.59 L159.25 605.98 L169.4 591.54 L179.55 578.59 L189.7 567.32 L199.85 557.78 L210 549.94 L220.15 543.66 L230.3 538.72 L240.45 534.85 L250.6 531.79 L260.75 529.36 L270.9 527.48 L281.05 526.08 L291.2 525.08 L301.35 524.42 L311.5 524 L321.65 523.77 L331.8 523.66 L341.95 523.63 L352.1 523.65 L362.25 523.69" fill="none" stroke="#bcbd22" stroke-width="1.2" stroke-opacity="0.92" stroke-linejoin="round" stroke-linecap="square"/>
<line x1="211.02" x2="211.02" y1="365.6" y2="698.5" stroke="#bcbd22" stroke-width="1.2" stroke-opacity="0.18"/>
<circle cx="211.02" cy="549.31" r="2.1" fill="#bcbd22"/>
<path d="M57.75 774.99 L67.9 754.94 L78.05 734.9 L88.2 714.91 L98.35 694.97 L108.5 675.12 L118.65 655.43 L128.8 636.35 L138.95 618.42 L149.1 601.98 L159.25 587.14 L169.4 573.87 L179.55 562.18 L189.7 552.07 L199.85 543.53 L210 536.55 L220.15 530.97 L230.3 526.57 L240.45 523.09 L250.6 520.31 L260.75 518.06 L270.9 516.28 L281.05 514.92 L291.2 513.91 L301.35 513.2 L311.5 512.73 L321.65 512.45 L331.8 512.3 L341.95 512.24 L352.1 512.25 L362.25 512.29" fill="none" stroke="#17becf" stroke-width="1.2" stroke-opacity="0.92" stroke-linejoin="round" stroke-linecap="square"/>
<line x1="202.89" x2="202.89" y1="365.6" y2="698.5" stroke="#17becf" stroke-width="1.2" stroke-opacity="0.18"/>
<circle cx="202.89" cy="541.44" r="2.1" fill="#17becf"/>
<path d="M57.75 760.04 L67.9 740.02 L78.05 719.89 L88.2 699.52 L98.35 678.77 L108.5 657.47 L118.65 636.02 L128.8 615.4 L138.95 596.67 L149.1 580.37 L159.25 566.45 L169.4 554.65 L179.55 544.61 L189.7 536.03 L199.85 528.79 L210 522.74 L220.15 517.7 L230.3 513.51 L240.45 509.99 L250.6 506.96 L260.75 504.46 L270.9 502.67 L281.05 501.52 L291.2 500.9 L301.35 500.65 L311.5 500.65 L321.65 500.75 L331.8 500.85 L341.95 500.92 L352.1 500.97 L362.25 501" fill="none" stroke="#1f77b4" stroke-width="1.2" stroke-opacity="0.92" stroke-linejoin="round" stroke-linecap="square"/>
<line x1="192.75" x2="192.75" y1="365.6" y2="698.5" stroke="#1f77b4" stroke-width="1.2" stroke-opacity="0.18"/>
<circle cx="192.75" cy="533.86" r="2.1" fill="#1f77b4"/>
<path d="M57.75 745 L67.9 724.09 L78.05 703 L88.2 681.7 L98.35 662.8 L108.5 634.9 L118.65 606.42 L128.8 588.38 L138.95 571.89 L149.1 557.82 L159.25 546.07 L169.4 536.05 L179.55 527.44 L189.7 520.07 L199.85 513.84 L210 508.61 L220.15 504.25 L230.3 500.6 L240.45 497.53 L250.6 494.89 L260.75 492.72 L270.9 491.15 L281.05 490.13 L291.2 489.56 L301.35 489.31 L311.5 489.27 L321.65 489.33 L331.8 489.4 L341.95 489.44 L352.1 489.48 L362.25 489.5" fill="none" stroke="#ff7f0e" stroke-width="1.2" stroke-opacity="0.92" stroke-linejoin="round" stroke-linecap="square"/>
<line x1="179.55" x2="179.55" y1="365.6" y2="698.5" stroke="#ff7f0e" stroke-width="1.2" stroke-opacity="0.18"/>
<circle cx="179.55" cy="527.44" r="2.1" fill="#ff7f0e"/>
<path d="M57.75 730 L67.9 708 L78.05 681.7 L88.2 660.8 L98.35 621.9 L108.5 599 L118.65 579.86 L128.8 566.3 L138.95 553.22 L149.1 541.08 L159.25 530.15 L169.4 520.46 L179.55 512.05 L189.7 504.91 L199.85 499.01 L210 494.18 L220.15 490.26 L230.3 487.11 L240.45 484.57 L250.6 482.48 L260.75 480.79 L270.9 479.56 L281.05 478.73 L291.2 478.22 L301.35 477.96 L311.5 477.87 L321.65 477.87 L331.8 477.9 L341.95 477.93 L352.1 477.96 L362.25 478" fill="none" stroke="#2ca02c" stroke-width="1.2" stroke-opacity="0.92" stroke-linejoin="round" stroke-linecap="square"/>
<line x1="167.37" x2="167.37" y1="365.6" y2="698.5" stroke="#2ca02c" stroke-width="1.2" stroke-opacity="0.18"/>
<circle cx="167.37" cy="522.4" r="2.1" fill="#2ca02c"/>
<path d="M57.75 710 L67.9 688.7 L78.05 645.8 L88.2 612.9 L98.35 589.88 L108.5 575.08 L118.65 560.66 L128.8 547.02 L138.95 534.51 L149.1 523.28 L159.25 513.41 L169.4 504.86 L179.55 497.47 L189.7 491.09 L199.85 485.59 L210 480.93 L220.15 477.02 L230.3 473.81 L240.45 471.23 L250.6 469.23 L260.75 467.74 L270.9 466.69 L281.05 466.01 L291.2 465.62 L301.35 465.45 L311.5 465.42 L321.65 465.45 L331.8 465.48 L341.95 465.5 L352.1 465.5 L362.25 465.5" fill="none" stroke="#d62728" stroke-width="1.2" stroke-opacity="0.92" stroke-linejoin="round" stroke-linecap="square"/>
<line x1="154.18" x2="154.18" y1="365.6" y2="698.5" stroke="#d62728" stroke-width="1.2" stroke-opacity="0.18"/>
<circle cx="154.18" cy="518.35" r="2.1" fill="#d62728"/>
<path d="M57.75 688.7 L67.9 632.9 L78.05 602.5 L88.2 580.37 L98.35 566.46 L108.5 552.98 L118.65 540.34 L128.8 528.73 L138.95 518.08 L149.1 508.34 L159.25 499.47 L169.4 491.47 L179.55 484.31 L189.7 478.01 L199.85 472.53 L210 467.83 L220.15 463.87 L230.3 460.61 L240.45 458.01 L250.6 456.01 L260.75 454.59 L270.9 453.68 L281.05 453.2 L291.2 453.04 L301.35 453.08 L311.5 453.23 L321.65 453.38 L331.8 453.44 L341.95 453.42 L352.1 453.33 L362.25 453.21" fill="none" stroke="#9467bd" stroke-width="1.2" stroke-opacity="0.92" stroke-linejoin="round" stroke-linecap="square"/>
<line x1="143.01" x2="143.01" y1="365.6" y2="698.5" stroke="#9467bd" stroke-width="1.2" stroke-opacity="0.18"/>
<circle cx="143.01" cy="514.19" r="2.1" fill="#9467bd"/>
<path d="M57.75 625.5 L67.9 597.6 L78.05 575.5 L88.2 558.39 L98.35 546.11 L108.5 534.19 L118.65 522.8 L128.8 512.11 L138.95 502.23 L149.1 493.21 L159.25 485.01 L169.4 477.6 L179.55 470.95 L189.7 465.02 L199.85 459.8 L210 455.26 L220.15 451.38 L230.3 448.14 L240.45 445.52 L250.6 443.51 L260.75 442.08 L270.9 441.21 L281.05 440.78 L291.2 440.7 L301.35 440.84 L311.5 441.09 L321.65 441.34 L331.8 441.5 L341.95 441.56 L352.1 441.55 L362.25 441.51" fill="none" stroke="#8c564b" stroke-width="1.2" stroke-opacity="0.92" stroke-linejoin="round" stroke-linecap="square"/>
<line x1="131.84" x2="131.84" y1="365.6" y2="698.5" stroke="#8c564b" stroke-width="1.2" stroke-opacity="0.18"/>
<circle cx="131.84" cy="509.14" r="2.1" fill="#8c564b"/>
<path d="M57.75 593 L67.9 575.31 L78.05 558.57 L88.2 543.41 L98.35 530.09 L108.5 518.3 L118.65 507.69 L128.8 497.92 L138.95 488.82 L149.1 480.39 L159.25 472.62 L169.4 465.5 L179.55 459.01 L189.7 453.15 L199.85 447.92 L210 443.3 L220.15 439.31 L230.3 435.94 L240.45 433.19 L250.6 431.06 L260.75 429.55 L270.9 428.65 L281.05 428.24 L291.2 428.23 L301.35 428.48 L311.5 428.89 L321.65 429.33 L331.8 429.71 L341.95 430.02 L352.1 430.27 L362.25 430.51" fill="none" stroke="#e377c2" stroke-width="1.2" stroke-opacity="0.92" stroke-linejoin="round" stroke-linecap="square"/>
<line x1="122.71" x2="122.71" y1="365.6" y2="698.5" stroke="#e377c2" stroke-width="1.2" stroke-opacity="0.18"/>
<circle cx="122.71" cy="503.78" r="2.1" fill="#e377c2"/>
<path d="M57.75 565.81 L67.9 551.93 L78.05 538.65 L88.2 526.23 L98.35 514.7 L108.5 504.04 L118.65 494.08 L128.8 484.66 L138.95 475.78 L149.1 467.46 L159.25 459.73 L169.4 452.62 L179.55 446.14 L189.7 440.33 L199.85 435.18 L210 430.69 L220.15 426.83 L230.3 423.61 L240.45 420.99 L250.6 418.96 L260.75 417.51 L270.9 416.62 L281.05 416.21 L291.2 416.18 L301.35 416.47 L311.5 416.97 L321.65 417.6 L331.8 418.29 L341.95 419.01 L352.1 419.75 L362.25 420.5" fill="none" stroke="#7f7f7f" stroke-width="1.2" stroke-opacity="0.92" stroke-linejoin="round" stroke-linecap="square"/>
<line x1="115.6" x2="115.6" y1="365.6" y2="698.5" stroke="#7f7f7f" stroke-width="1.2" stroke-opacity="0.18"/>
<circle cx="115.6" cy="497.07" r="2.1" fill="#7f7f7f"/>
<path d="M57.75 547.32 L67.9 534.72 L78.05 522.4 L88.2 510.64 L98.35 499.62 L108.5 489.21 L118.65 479.26 L128.8 469.81 L138.95 460.98 L149.1 452.87 L159.25 445.57 L169.4 439.08 L179.55 433.24 L189.7 427.95 L199.85 423.12 L210 418.79 L220.15 414.97 L230.3 411.68 L240.45 408.95 L250.6 406.8 L260.75 405.26 L270.9 404.31 L281.05 403.89 L291.2 403.91 L301.35 404.25 L311.5 404.84 L321.65 405.56 L331.8 406.34 L341.95 407.14 L352.1 407.97 L362.25 408.8" fill="none" stroke="#bcbd22" stroke-width="1.2" stroke-opacity="0.92" stroke-linejoin="round" stroke-linecap="square"/>
<line x1="108.5" x2="108.5" y1="365.6" y2="698.5" stroke="#bcbd22" stroke-width="1.2" stroke-opacity="0.18"/>
<circle cx="108.5" cy="489.21" r="2.1" fill="#bcbd22"/>
<path d="M57.75 529.2 L67.9 517.67 L78.05 506.47 L88.2 495.76 L98.35 485.57 L108.5 475.87 L118.65 466.67 L128.8 457.98 L138.95 449.8 L149.1 442.13 L159.25 435 L169.4 428.37 L179.55 422.24 L189.7 416.57 L199.85 411.36 L210 406.65 L220.15 402.47 L230.3 398.86 L240.45 395.84 L250.6 393.44 L260.75 391.72 L270.9 390.66 L281.05 390.2 L291.2 390.22 L301.35 390.62 L311.5 391.29 L321.65 392.13 L331.8 393.05 L341.95 394.01 L352.1 395 L362.25 396" fill="none" stroke="#17becf" stroke-width="1.2" stroke-opacity="0.92" stroke-linejoin="round" stroke-linecap="square"/>
<line x1="103.02" x2="103.02" y1="365.6" y2="698.5" stroke="#17becf" stroke-width="1.2" stroke-opacity="0.18"/>
<circle cx="103.02" cy="481.11" r="2.1" fill="#17becf"/>
<path d="M57.75 512.81 L67.9 502.23 L78.05 491.81 L88.2 481.67 L98.35 471.95 L108.5 462.74 L118.65 454.03 L128.8 445.78 L138.95 437.97 L149.1 430.56 L159.25 423.5 L169.4 416.81 L179.55 410.52 L189.7 404.65 L199.85 399.25 L210 394.36 L220.15 390.01 L230.3 386.24 L240.45 383.09 L250.6 380.59 L260.75 378.8 L270.9 377.72 L281.05 377.35 L291.2 377.63 L301.35 378.4 L311.5 379.52 L321.65 380.83 L331.8 382.2 L341.95 383.59 L352.1 384.99 L362.25 386.4" fill="none" stroke="#1f77b4" stroke-width="1.2" stroke-opacity="0.92" stroke-linejoin="round" stroke-linecap="square"/>
<line x1="98.35" x2="98.35" y1="365.6" y2="698.5" stroke="#1f77b4" stroke-width="1.2" stroke-opacity="0.18"/>
<circle cx="98.35" cy="471.95" r="2.1" fill="#1f77b4"/>
</g>
<text transform="translate(200.55 374.8) scale(1 0.9566) rotate(-90)" text-anchor="end" font-size="10.1">log <tspan font-style="italic">n</tspan><tspan font-size="6.6" dy="1.5">H</tspan><tspan dy="-1.5"> = -1.67</tspan></text>
<text transform="translate(210.69 374.8) scale(1 0.9566) rotate(-90)" text-anchor="end" font-size="10.1">log <tspan font-style="italic">n</tspan><tspan font-size="6.6" dy="1.5">H</tspan><tspan dy="-1.5"> = -1.57</tspan></text>
<text transform="translate(218.82 374.8) scale(1 0.9566) rotate(-90)" text-anchor="end" font-size="10.1">log <tspan font-style="italic">n</tspan><tspan font-size="6.6" dy="1.5">H</tspan><tspan dy="-1.5"> = -1.49</tspan></text>
<text transform="translate(228.97 374.8) scale(1 0.9566) rotate(-90)" text-anchor="end" font-size="10.1">log <tspan font-style="italic">n</tspan><tspan font-size="6.6" dy="1.5">H</tspan><tspan dy="-1.5"> = -1.39</tspan></text>
<text transform="translate(316.25 374.7) scale(1 0.9566) rotate(-90)" text-anchor="end" font-size="9.4">Z = −0.5, log <tspan font-style="italic">n</tspan><tspan font-size="6.6" dy="1.5">H</tspan><tspan dy="-1.5"> = -0.53</tspan></text>
<text transform="translate(46.9 566.2) scale(1 0.9566)" font-size="9.1">log <tspan font-style="italic">N</tspan><tspan font-size="6.3" dy="1.5">OI</tspan><tspan dy="-1.5"> = 12.43 ± 0.11</tspan></text>
<rect x="324.4" y="382.9" width="47.3" height="310.7" rx="2" ry="2" fill="#fff" fill-opacity="0.8" stroke="#ccc" stroke-opacity="0.8" stroke-width="0.8"/>
<text transform="translate(348.05 392.1) scale(1 0.9566)" text-anchor="middle" font-size="7.2">[Z/H]</text>
<line x1="327.7" x2="338" y1="402.5" y2="402.5" stroke="#1f77b4" stroke-width="1.1"/>
<text transform="translate(345.4 405.95) scale(1 0.9566)" font-size="9.7">−0.5</text>
<line x1="327.7" x2="338" y1="416.58" y2="416.58" stroke="#ff7f0e" stroke-width="1.1"/>
<text transform="translate(345.4 420.03) scale(1 0.9566)" font-size="9.7">−0.4</text>
<line x1="327.7" x2="338" y1="430.66" y2="430.66" stroke="#2ca02c" stroke-width="1.1"/>
<text transform="translate(345.4 434.11) scale(1 0.9566)" font-size="9.7">−0.3</text>
<line x1="327.7" x2="338" y1="444.74" y2="444.74" stroke="#d62728" stroke-width="1.1"/>
<text transform="translate(345.4 448.19) scale(1 0.9566)" font-size="9.7">−0.2</text>
<line x1="327.7" x2="338" y1="458.82" y2="458.82" stroke="#9467bd" stroke-width="1.1"/>
<text transform="translate(345.4 462.27) scale(1 0.9566)" font-size="9.7">−0.1</text>
<line x1="327.7" x2="338" y1="472.9" y2="472.9" stroke="#8c564b" stroke-width="1.1"/>
<text transform="translate(345.4 476.35) scale(1 0.9566)" font-size="9.7">0</text>
<line x1="327.7" x2="338" y1="486.98" y2="486.98" stroke="#e377c2" stroke-width="1.1"/>
<text transform="translate(345.4 490.43) scale(1 0.9566)" font-size="9.7">+0.1</text>
<line x1="327.7" x2="338" y1="501.06" y2="501.06" stroke="#7f7f7f" stroke-width="1.1"/>
<text transform="translate(345.4 504.51) scale(1 0.9566)" font-size="9.7">+0.2</text>
<line x1="327.7" x2="338" y1="515.14" y2="515.14" stroke="#bcbd22" stroke-width="1.1"/>
<text transform="translate(345.4 518.59) scale(1 0.9566)" font-size="9.7">+0.3</text>
<line x1="327.7" x2="338" y1="529.22" y2="529.22" stroke="#17becf" stroke-width="1.1"/>
<text transform="translate(345.4 532.67) scale(1 0.9566)" font-size="9.7">+0.4</text>
<line x1="327.7" x2="338" y1="543.3" y2="543.3" stroke="#1f77b4" stroke-width="1.1"/>
<text transform="translate(345.4 546.75) scale(1 0.9566)" font-size="9.7">+0.5</text>
<line x1="327.7" x2="338" y1="557.38" y2="557.38" stroke="#ff7f0e" stroke-width="1.1"/>
<text transform="translate(345.4 560.83) scale(1 0.9566)" font-size="9.7">+0.6</text>
<line x1="327.7" x2="338" y1="571.46" y2="571.46" stroke="#2ca02c" stroke-width="1.1"/>
<text transform="translate(345.4 574.91) scale(1 0.9566)" font-size="9.7">+0.7</text>
<line x1="327.7" x2="338" y1="585.54" y2="585.54" stroke="#d62728" stroke-width="1.1"/>
<text transform="translate(345.4 588.99) scale(1 0.9566)" font-size="9.7">+0.8</text>
<line x1="327.7" x2="338" y1="599.62" y2="599.62" stroke="#9467bd" stroke-width="1.1"/>
<text transform="translate(345.4 603.07) scale(1 0.9566)" font-size="9.7">+0.9</text>
<line x1="327.7" x2="338" y1="613.7" y2="613.7" stroke="#8c564b" stroke-width="1.1"/>
<text transform="translate(345.4 617.15) scale(1 0.9566)" font-size="9.7">+1.0</text>
<line x1="327.7" x2="338" y1="627.78" y2="627.78" stroke="#e377c2" stroke-width="1.1"/>
<text transform="translate(345.4 631.23) scale(1 0.9566)" font-size="9.7">+1.1</text>
<line x1="327.7" x2="338" y1="641.86" y2="641.86" stroke="#7f7f7f" stroke-width="1.1"/>
<text transform="translate(345.4 645.31) scale(1 0.9566)" font-size="9.7">+1.2</text>
<line x1="327.7" x2="338" y1="655.94" y2="655.94" stroke="#bcbd22" stroke-width="1.1"/>
<text transform="translate(345.4 659.39) scale(1 0.9566)" font-size="9.7">+1.3</text>
<line x1="327.7" x2="338" y1="670.02" y2="670.02" stroke="#17becf" stroke-width="1.1"/>
<text transform="translate(345.4 673.47) scale(1 0.9566)" font-size="9.7">+1.4</text>
<line x1="327.7" x2="338" y1="684.1" y2="684.1" stroke="#1f77b4" stroke-width="1.1"/>
<text transform="translate(345.4 687.55) scale(1 0.9566)" font-size="9.7">+1.5</text>
<line x1="42.6" y1="365.6" x2="42.6" y2="698.5" stroke="#000" stroke-width="1.0" stroke-opacity="0.47" stroke-linecap="square"/>
<line x1="42.6" y1="698.5" x2="377.6" y2="698.5" stroke="#000" stroke-width="1.0" stroke-opacity="0.47" stroke-linecap="square"/>
<line x1="377.6" y1="365.6" x2="377.6" y2="698.5" stroke="#000" stroke-width="1.0" stroke-opacity="0.47" stroke-linecap="square"/>
<line x1="42.6" y1="365.6" x2="377.6" y2="365.6" stroke="#000" stroke-width="1.0" stroke-opacity="0.47" stroke-linecap="square"/>
<line x1="57.75" x2="57.75" y1="699" y2="702.8" stroke="#000" stroke-width="1" stroke-opacity="0.95"/>
<text transform="translate(57.75 712.6) scale(1 0.9566)" text-anchor="middle" font-size="10">−3.0</text>
<line x1="108.5" x2="108.5" y1="699" y2="702.8" stroke="#000" stroke-width="1" stroke-opacity="0.95"/>
<text transform="translate(108.5 712.6) scale(1 0.9566)" text-anchor="middle" font-size="10">−2.5</text>
<line x1="159.25" x2="159.25" y1="699" y2="702.8" stroke="#000" stroke-width="1" stroke-opacity="0.95"/>
<text transform="translate(159.25 712.6) scale(1 0.9566)" text-anchor="middle" font-size="10">−2.0</text>
<line x1="210" x2="210" y1="699" y2="702.8" stroke="#000" stroke-width="1" stroke-opacity="0.95"/>
<text transform="translate(210 712.6) scale(1 0.9566)" text-anchor="middle" font-size="10">−1.5</text>
<line x1="260.75" x2="260.75" y1="699" y2="702.8" stroke="#000" stroke-width="1" stroke-opacity="0.95"/>
<text transform="translate(260.75 712.6) scale(1 0.9566)" text-anchor="middle" font-size="10">−1.0</text>
<line x1="311.5" x2="311.5" y1="699" y2="702.8" stroke="#000" stroke-width="1" stroke-opacity="0.95"/>
<text transform="translate(311.5 712.6) scale(1 0.9566)" text-anchor="middle" font-size="10">−0.5</text>
<line x1="362.25" x2="362.25" y1="699" y2="702.8" stroke="#000" stroke-width="1" stroke-opacity="0.95"/>
<text transform="translate(362.25 712.6) scale(1 0.9566)" text-anchor="middle" font-size="10">0.0</text>
<line x1="38.4" x2="42.3" y1="376.3" y2="376.3" stroke="#000" stroke-width="1" stroke-opacity="0.95"/>
<text transform="translate(36.6 379.9) scale(1 0.9566)" text-anchor="end" font-size="10">14.0</text>
<line x1="38.4" x2="42.3" y1="430" y2="430" stroke="#000" stroke-width="1" stroke-opacity="0.95"/>
<text transform="translate(36.6 433.6) scale(1 0.9566)" text-anchor="end" font-size="10">13.5</text>
<line x1="38.4" x2="42.3" y1="483.7" y2="483.7" stroke="#000" stroke-width="1" stroke-opacity="0.95"/>
<text transform="translate(36.6 487.3) scale(1 0.9566)" text-anchor="end" font-size="10">13.0</text>
<line x1="38.4" x2="42.3" y1="537.4" y2="537.4" stroke="#000" stroke-width="1" stroke-opacity="0.95"/>
<text transform="translate(36.6 541) scale(1 0.9566)" text-anchor="end" font-size="10">12.5</text>
<line x1="38.4" x2="42.3" y1="591.1" y2="591.1" stroke="#000" stroke-width="1" stroke-opacity="0.95"/>
<text transform="translate(36.6 594.7) scale(1 0.9566)" text-anchor="end" font-size="10">12.0</text>
<line x1="38.4" x2="42.3" y1="644.8" y2="644.8" stroke="#000" stroke-width="1" stroke-opacity="0.95"/>
<text transform="translate(36.6 648.4) scale(1 0.9566)" text-anchor="end" font-size="10">11.5</text>
<line x1="38.4" x2="42.3" y1="698.5" y2="698.5" stroke="#000" stroke-width="1" stroke-opacity="0.95"/>
<text transform="translate(36.6 702.1) scale(1 0.9566)" text-anchor="end" font-size="10">11.0</text>
<text transform="translate(210.1 725.4) scale(1 0.9566)" text-anchor="middle" font-size="9.8">log (<tspan font-style="italic">n</tspan><tspan font-size="7" dy="1.6">H</tspan><tspan dy="-1.6"> /cm</tspan><tspan font-size="7" dy="-3.8">−3</tspan><tspan dy="3.8">)</tspan></text>
<text transform="translate(10.6 532) scale(1 0.9566) rotate(-90)" text-anchor="middle" font-size="10">log (<tspan font-style="italic">N</tspan><tspan font-size="7" dy="1.6">OI</tspan><tspan dy="-1.6"> /cm</tspan><tspan font-size="7" dy="-3.8">−2</tspan><tspan dy="3.8">)</tspan></text>
<clipPath id="cR"><rect x="425.3" y="365.6" width="335" height="333"/></clipPath>
<g clip-path="url(#cR)">
<rect x="425.3" y="491.54" width="335" height="28.96" fill="#17becf" fill-opacity="0.12"/>
<line x1="425.3" x2="760.3" y1="506.02" y2="506.02" stroke="#2fd2df" stroke-width="1.3" stroke-dasharray="2.1 1.06" stroke-opacity="0.9"/>
<path d="M440.5 495.9 L450.65 517.5 L460.8 535.8 L470.95 549.8 L481.1 559 L491.25 566.3 L501.4 572.32 L511.55 576.82 L521.7 580.63 L531.85 583.7 L542 586.37 L552.15 588.97 L562.3 591.61 L572.45 594.48 L582.6 598.01 L592.75 602.31 L602.9 607.25 L613.05 612.88 L623.2 619.28 L633.35 626.47 L643.5 634.42 L653.65 643.07 L663.8 652.34 L673.95 662.17 L684.1 672.45 L694.25 683 L704.4 693.46 L714.55 703.6 L724.7 713.41 L734.85 722.98 L745 732.44" fill="none" stroke="#1f77b4" stroke-width="1.2" stroke-opacity="0.92" stroke-linejoin="round" stroke-linecap="square"/>
<line x1="691.21" x2="691.21" y1="365.6" y2="698.6" stroke="#1f77b4" stroke-width="1.2" stroke-opacity="0.18"/>
<circle cx="691.21" cy="679.84" r="2.1" fill="#1f77b4"/>
<path d="M440.5 497.5 L450.65 516.9 L460.8 533.4 L470.95 546.8 L481.1 554.8 L491.25 560.83 L501.4 564.8 L511.55 567.68 L521.7 569.73 L531.85 571.5 L542 573.44 L552.15 575.84 L562.3 578.55 L572.45 581.43 L582.6 584.9 L592.75 589.15 L602.9 594.11 L613.05 599.81 L623.2 606.31 L633.35 613.63 L643.5 621.75 L653.65 630.57 L663.8 640.01 L673.95 649.99 L684.1 660.39 L694.25 671.11 L704.4 681.97 L714.55 692.79 L724.7 703.42 L734.85 713.83 L745 724.13" fill="none" stroke="#ff7f0e" stroke-width="1.2" stroke-opacity="0.92" stroke-linejoin="round" stroke-linecap="square"/>
<line x1="681.05" x2="681.05" y1="365.6" y2="698.6" stroke="#ff7f0e" stroke-width="1.2" stroke-opacity="0.18"/>
<circle cx="681.05" cy="657.27" r="2.1" fill="#ff7f0e"/>
<path d="M440.5 498.9 L450.65 516.3 L460.8 530.8 L470.95 541.4 L481.1 547.8 L491.25 551.82 L501.4 554.48 L511.55 556.41 L521.7 557.9 L531.85 559.45 L542 561.21 L552.15 563.24 L562.3 565.54 L572.45 568.28 L582.6 571.88 L592.75 575.9 L602.9 580.21 L613.05 585.51 L623.2 592.05 L633.35 599.75 L643.5 608.3 L653.65 617.59 L663.8 627.5 L673.95 638.06 L684.1 649.22 L694.25 660.75 L704.4 672.49 L714.55 684.3 L724.7 696.13 L734.85 707.96 L745 719.8" fill="none" stroke="#2ca02c" stroke-width="1.2" stroke-opacity="0.92" stroke-linejoin="round" stroke-linecap="square"/>
<line x1="669.89" x2="669.89" y1="365.6" y2="698.6" stroke="#2ca02c" stroke-width="1.2" stroke-opacity="0.18"/>
<circle cx="669.89" cy="633.84" r="2.1" fill="#2ca02c"/>
<path d="M440.5 499.9 L450.65 514.9 L460.8 526.9 L470.95 534.4 L481.1 538.81 L491.25 541.08 L501.4 543.05 L511.55 544.54 L521.7 545.89 L531.85 547.5 L542 549.42 L552.15 551.66 L562.3 554.09 L572.45 556.65 L582.6 559.7 L592.75 563.41 L602.9 567.92 L613.05 573.44 L623.2 580.12 L633.35 587.99 L643.5 596.91 L653.65 606.73 L663.8 617.26 L673.95 628.3 L684.1 639.64 L694.25 651.11 L704.4 662.64 L714.55 674.15 L724.7 685.63 L734.85 697.1 L745 708.55" fill="none" stroke="#d62728" stroke-width="1.2" stroke-opacity="0.92" stroke-linejoin="round" stroke-linecap="square"/>
<line x1="656.7" x2="656.7" y1="365.6" y2="698.6" stroke="#d62728" stroke-width="1.2" stroke-opacity="0.18"/>
<circle cx="656.7" cy="609.88" r="2.1" fill="#d62728"/>
<path d="M440.5 500.9 L450.65 512.9 L460.8 521.5 L470.95 525.9 L481.1 528.4 L491.25 529.36 L501.4 530.37 L511.55 531.48 L521.7 532.86 L531.85 534.65 L542 536.79 L552.15 539.17 L562.3 541.73 L572.45 544.46 L582.6 547.68 L592.75 551.64 L602.9 556.49 L613.05 562.3 L623.2 569.18 L633.35 577.11 L643.5 585.99 L653.65 595.75 L663.8 606.12 L673.95 616.92 L684.1 628.04 L694.25 639.35 L704.4 650.77 L714.55 662.23 L724.7 673.7 L734.85 685.17 L745 696.65" fill="none" stroke="#9467bd" stroke-width="1.2" stroke-opacity="0.92" stroke-linejoin="round" stroke-linecap="square"/>
<line x1="643.5" x2="643.5" y1="365.6" y2="698.6" stroke="#9467bd" stroke-width="1.2" stroke-opacity="0.18"/>
<circle cx="643.5" cy="585.99" r="2.1" fill="#9467bd"/>
<path d="M440.5 499.9 L450.65 508.9 L460.8 513.9 L470.95 516.3 L481.1 517.3 L491.25 517.52 L501.4 517.94 L511.55 518.72 L521.7 519.9 L531.85 521.51 L542 523.54 L552.15 525.98 L562.3 528.65 L572.45 531.45 L582.6 534.93 L592.75 539.4 L602.9 544.81 L613.05 551.15 L623.2 558.52 L633.35 566.84 L643.5 576 L653.65 585.85 L663.8 596.27 L673.95 607.12 L684.1 618.25 L694.25 629.57 L704.4 640.99 L714.55 652.45 L724.7 663.91 L734.85 675.38 L745 686.85" fill="none" stroke="#8c564b" stroke-width="1.2" stroke-opacity="0.92" stroke-linejoin="round" stroke-linecap="square"/>
<line x1="629.29" x2="629.29" y1="365.6" y2="698.6" stroke="#8c564b" stroke-width="1.2" stroke-opacity="0.18"/>
<circle cx="629.29" cy="563.51" r="2.1" fill="#8c564b"/>
<path d="M440.5 497.9 L450.65 502.9 L460.8 504.9 L470.95 504.9 L481.1 504.89 L491.25 504.58 L501.4 504.58 L511.55 505.15 L521.7 506.24 L531.85 507.81 L542 509.99 L552.15 512.88 L562.3 516.26 L572.45 519.76 L582.6 523.39 L592.75 527.68 L602.9 533.2 L613.05 539.97 L623.2 548.11 L633.35 557.35 L643.5 567.27 L653.65 577.59 L663.8 588.06 L673.95 598.67 L684.1 609.53 L694.25 620.63 L704.4 631.9 L714.55 643.26 L724.7 654.69 L734.85 666.15 L745 677.64" fill="none" stroke="#e377c2" stroke-width="1.2" stroke-opacity="0.92" stroke-linejoin="round" stroke-linecap="square"/>
<line x1="616.1" x2="616.1" y1="365.6" y2="698.6" stroke="#e377c2" stroke-width="1.2" stroke-opacity="0.18"/>
<circle cx="616.1" cy="542.41" r="2.1" fill="#e377c2"/>
<path d="M440.5 492.32 L450.65 493.08 L460.8 492.97 L470.95 492.22 L481.1 491.3 L491.25 490.72 L501.4 490.84 L511.55 491.69 L521.7 493.16 L531.85 495.17 L542 497.61 L552.15 500.35 L562.3 503.41 L572.45 507.09 L582.6 511.25 L592.75 515.92 L602.9 522.06 L613.05 530 L623.2 539.43 L633.35 549.7 L643.5 560.19 L653.65 570.61 L663.8 580.72 L673.95 590.79 L684.1 601.19 L694.25 611.99 L704.4 623.08 L714.55 634.36 L724.7 645.78 L734.85 657.28 L745 668.83" fill="none" stroke="#7f7f7f" stroke-width="1.2" stroke-opacity="0.92" stroke-linejoin="round" stroke-linecap="square"/>
<line x1="603.91" x2="603.91" y1="365.6" y2="698.6" stroke="#7f7f7f" stroke-width="1.2" stroke-opacity="0.18"/>
<circle cx="603.91" cy="522.86" r="2.1" fill="#7f7f7f"/>
<path d="M440.5 482.5 L450.65 481.25 L460.8 480.07 L470.95 479.05 L481.1 478.26 L491.25 477.78 L501.4 477.7 L511.55 478.18 L521.7 479.39 L531.85 481.48 L542 484.31 L552.15 487.46 L562.3 490.79 L572.45 494.74 L582.6 499.74 L592.75 505.56 L602.9 512.15 L613.05 519.9 L623.2 528.95 L633.35 539.05 L643.5 549.76 L653.65 560.68 L663.8 571.49 L673.95 582.19 L684.1 592.92 L694.25 603.72 L704.4 614.59 L714.55 625.5 L724.7 636.45 L734.85 647.42 L745 658.4" fill="none" stroke="#bcbd22" stroke-width="1.2" stroke-opacity="0.92" stroke-linejoin="round" stroke-linecap="square"/>
<line x1="593.76" x2="593.76" y1="365.6" y2="698.6" stroke="#bcbd22" stroke-width="1.2" stroke-opacity="0.18"/>
<circle cx="593.76" cy="506.22" r="2.1" fill="#bcbd22"/>
<path d="M440.5 471.99 L450.65 469.3 L460.8 466.97 L470.95 465.29 L481.1 464.32 L491.25 464.08 L501.4 464.48 L511.55 465.5 L521.7 467.13 L531.85 469.39 L542 472.28 L552.15 475.77 L562.3 479.96 L572.45 485.3 L582.6 491.53 L592.75 497.55 L602.9 504.01 L613.05 511.47 L623.2 520.14 L633.35 529.98 L643.5 540.63 L653.65 551.7 L663.8 562.8 L673.95 573.8 L684.1 584.93 L694.25 596.48 L704.4 608.4 L714.55 620.65 L724.7 633.14 L734.85 645.79 L745 658.52" fill="none" stroke="#17becf" stroke-width="1.2" stroke-opacity="0.92" stroke-linejoin="round" stroke-linecap="square"/>
<line x1="585.64" x2="585.64" y1="365.6" y2="698.6" stroke="#17becf" stroke-width="1.2" stroke-opacity="0.18"/>
<circle cx="585.64" cy="493.34" r="2.1" fill="#17becf"/>
<path d="M440.5 459.2 L450.65 455.62 L460.8 453 L470.95 451.3 L481.1 450.4 L491.25 450.3 L501.4 450.7 L511.55 451.8 L521.7 456 L531.85 462.7 L542 468.7 L552.15 473.18 L562.3 477.85 L572.45 482.9 L582.6 488.34 L592.75 494.07 L602.9 500.45 L613.05 507.85 L623.2 516.46 L633.35 526.21 L643.5 536.74 L653.65 547.68 L663.8 558.67 L673.95 569.59 L684.1 580.66 L694.25 592.14 L704.4 603.99 L714.55 616.14 L724.7 628.52 L734.85 641.06 L745 653.67" fill="none" stroke="#1f77b4" stroke-width="1.2" stroke-opacity="0.92" stroke-linejoin="round" stroke-linecap="square"/>
<line x1="575.5" x2="575.5" y1="365.6" y2="698.6" stroke="#1f77b4" stroke-width="1.2" stroke-opacity="0.18"/>
<circle cx="575.5" cy="484.53" r="2.1" fill="#1f77b4"/>
<path d="M440.5 444.7 L450.65 441.2 L460.8 438.8 L470.95 437.4 L481.1 436.7 L491.25 436.4 L501.4 444.7 L511.55 453 L521.7 458.9 L531.85 464.7 L542 468.99 L552.15 473.39 L562.3 478 L572.45 482.82 L582.6 487.77 L592.75 493.05 L602.9 499.17 L613.05 506.39 L623.2 514.82 L633.35 524.41 L643.5 534.81 L653.65 545.61 L663.8 556.41 L673.95 567.09 L684.1 577.84 L694.25 588.9 L704.4 600.25 L714.55 611.85 L724.7 623.64 L734.85 635.55 L745 647.52" fill="none" stroke="#ff7f0e" stroke-width="1.2" stroke-opacity="0.92" stroke-linejoin="round" stroke-linecap="square"/>
<line x1="562.3" x2="562.3" y1="365.6" y2="698.6" stroke="#ff7f0e" stroke-width="1.2" stroke-opacity="0.18"/>
<circle cx="562.3" cy="478" r="2.1" fill="#ff7f0e"/>
<path d="M440.5 430.3 L450.65 427.6 L460.8 424.8 L470.95 422.5 L481.1 431.1 L491.25 443.6 L501.4 453 L511.55 458.9 L521.7 463.7 L531.85 467.29 L542 470.82 L552.15 474.27 L562.3 477.74 L572.45 481.69 L582.6 486.27 L592.75 491.39 L602.9 497.37 L613.05 504.47 L623.2 512.84 L633.35 522.37 L643.5 532.7 L653.65 543.37 L663.8 553.96 L673.95 564.35 L684.1 574.66 L694.25 585.08 L704.4 595.62 L714.55 606.28 L724.7 617.04 L734.85 627.87 L745 638.74" fill="none" stroke="#2ca02c" stroke-width="1.2" stroke-opacity="0.92" stroke-linejoin="round" stroke-linecap="square"/>
<line x1="550.12" x2="550.12" y1="365.6" y2="698.6" stroke="#2ca02c" stroke-width="1.2" stroke-opacity="0.18"/>
<circle cx="550.12" cy="473.58" r="2.1" fill="#2ca02c"/>
<path d="M440.5 415.4 L450.65 411.3 L460.8 413.9 L470.95 431.7 L481.1 445.3 L491.25 453.6 L501.4 457.8 L511.55 461.3 L521.7 464.29 L531.85 466.42 L542 468.93 L552.15 472.01 L562.3 475.61 L572.45 479.64 L582.6 484.06 L592.75 489.09 L602.9 495.08 L613.05 502.16 L623.2 510.4 L633.35 519.71 L643.5 529.77 L653.65 540.09 L663.8 550.23 L673.95 560.09 L684.1 569.81 L694.25 579.51 L704.4 589.23 L714.55 599.01 L724.7 608.83 L734.85 618.68 L745 628.54" fill="none" stroke="#d62728" stroke-width="1.2" stroke-opacity="0.92" stroke-linejoin="round" stroke-linecap="square"/>
<line x1="536.92" x2="536.92" y1="365.6" y2="698.6" stroke="#d62728" stroke-width="1.2" stroke-opacity="0.18"/>
<circle cx="536.92" cy="467.68" r="2.1" fill="#d62728"/>
<path d="M440.5 397.6 L450.65 412.8 L460.8 432.9 L470.95 444.1 L481.1 449.2 L491.25 453 L501.4 454.8 L511.55 456.6 L521.7 458.36 L531.85 459.76 L542 461.9 L552.15 464.8 L562.3 468.46 L572.45 472.89 L582.6 477.91 L592.75 483.51 L602.9 489.89 L613.05 497.18 L623.2 505.41 L633.35 514.52 L643.5 524.26 L653.65 534.22 L663.8 543.99 L673.95 553.43 L684.1 562.69 L694.25 571.89 L704.4 581.11 L714.55 590.39 L724.7 599.71 L734.85 609.07 L745 618.44" fill="none" stroke="#9467bd" stroke-width="1.2" stroke-opacity="0.92" stroke-linejoin="round" stroke-linecap="square"/>
<line x1="525.76" x2="525.76" y1="365.6" y2="698.6" stroke="#9467bd" stroke-width="1.2" stroke-opacity="0.18"/>
<circle cx="525.76" cy="458.92" r="2.1" fill="#9467bd"/>
<path d="M440.5 415.4 L450.65 431.5 L460.8 438.8 L470.95 441.8 L481.1 443.6 L491.25 444.7 L501.4 445.8 L511.55 447.05 L521.7 448.85 L531.85 451.08 L542 453.63 L552.15 456.68 L562.3 460.41 L572.45 465 L582.6 470.42 L592.75 476.47 L602.9 483.18 L613.05 490.62 L623.2 498.8 L633.35 507.7 L643.5 517.15 L653.65 526.78 L663.8 536.2 L673.95 545.34 L684.1 554.26 L694.25 563.1 L704.4 571.89 L714.55 580.7 L724.7 589.52 L734.85 598.36 L745 607.2" fill="none" stroke="#8c564b" stroke-width="1.2" stroke-opacity="0.92" stroke-linejoin="round" stroke-linecap="square"/>
<line x1="514.6" x2="514.6" y1="365.6" y2="698.6" stroke="#8c564b" stroke-width="1.2" stroke-opacity="0.18"/>
<circle cx="514.6" cy="447.59" r="2.1" fill="#8c564b"/>
<path d="M440.5 425.8 L450.65 429.7 L460.8 430.5 L470.95 430.93 L481.1 431.5 L491.25 432.27 L501.4 433.29 L511.55 434.73 L521.7 436.64 L531.85 438.95 L542 441.72 L552.15 445.08 L562.3 449.18 L572.45 454.23 L582.6 460.19 L592.75 466.87 L602.9 474.14 L613.05 481.97 L623.2 490.3 L633.35 499.05 L643.5 508.14 L653.65 517.42 L663.8 526.6 L673.95 535.58 L684.1 544.44 L694.25 553.2 L704.4 561.92 L714.55 570.62 L724.7 579.32 L734.85 588.01 L745 596.7" fill="none" stroke="#e377c2" stroke-width="1.2" stroke-opacity="0.92" stroke-linejoin="round" stroke-linecap="square"/>
<line x1="505.46" x2="505.46" y1="365.6" y2="698.6" stroke="#e377c2" stroke-width="1.2" stroke-opacity="0.18"/>
<circle cx="505.46" cy="433.86" r="2.1" fill="#e377c2"/>
<path d="M440.5 418.7 L450.65 418.07 L460.8 417.63 L470.95 417.57 L481.1 418 L491.25 418.84 L501.4 419.94 L511.55 421.37 L521.7 423.58 L531.85 426.4 L542 429.67 L552.15 433.48 L562.3 437.94 L572.45 443.21 L582.6 449.44 L592.75 456.6 L602.9 464.45 L613.05 472.78 L623.2 481.49 L633.35 490.43 L643.5 499.45 L653.65 508.39 L663.8 517.11 L673.95 525.63 L684.1 534.12 L694.25 542.68 L704.4 551.33 L714.55 560.05 L724.7 568.83 L734.85 577.65 L745 586.49" fill="none" stroke="#7f7f7f" stroke-width="1.2" stroke-opacity="0.92" stroke-linejoin="round" stroke-linecap="square"/>
<line x1="498.36" x2="498.36" y1="365.6" y2="698.6" stroke="#7f7f7f" stroke-width="1.2" stroke-opacity="0.18"/>
<circle cx="498.36" cy="419.61" r="2.1" fill="#7f7f7f"/>
<path d="M440.5 405.7 L450.65 404.68 L460.8 403.89 L470.95 403.57 L481.1 403.88 L491.25 404.8 L501.4 406.24 L511.55 408.19 L521.7 410.66 L531.85 413.67 L542 417.24 L552.15 421.42 L562.3 426.26 L572.45 431.87 L582.6 438.42 L592.75 445.9 L602.9 454.05 L613.05 462.63 L623.2 471.5 L633.35 480.49 L643.5 489.4 L653.65 498.06 L663.8 506.43 L673.95 514.61 L684.1 522.83 L694.25 531.21 L704.4 539.77 L714.55 548.46 L724.7 557.25 L734.85 566.1 L745 574.99" fill="none" stroke="#bcbd22" stroke-width="1.2" stroke-opacity="0.92" stroke-linejoin="round" stroke-linecap="square"/>
<line x1="491.25" x2="491.25" y1="365.6" y2="698.6" stroke="#bcbd22" stroke-width="1.2" stroke-opacity="0.18"/>
<circle cx="491.25" cy="404.8" r="2.1" fill="#bcbd22"/>
<path d="M440.5 390.9 L450.65 390.25 L460.8 389.76 L470.95 389.61 L481.1 389.94 L491.25 390.92 L501.4 392.58 L511.55 394.81 L521.7 397.51 L531.85 400.58 L542 404.01 L552.15 407.97 L562.3 412.69 L572.45 418.47 L582.6 425.37 L592.75 433.1 L602.9 441.43 L613.05 450.24 L623.2 459.41 L633.35 468.73 L643.5 477.95 L653.65 486.85 L663.8 495.33 L673.95 503.53 L684.1 511.66 L694.25 519.87 L704.4 528.19 L714.55 536.61 L724.7 545.12 L734.85 553.69 L745 562.29" fill="none" stroke="#17becf" stroke-width="1.2" stroke-opacity="0.92" stroke-linejoin="round" stroke-linecap="square"/>
<line x1="485.77" x2="485.77" y1="365.6" y2="698.6" stroke="#17becf" stroke-width="1.2" stroke-opacity="0.18"/>
<circle cx="485.77" cy="390.39" r="2.1" fill="#17becf"/>
<path d="M440.5 375.6 L450.65 375.09 L460.8 374.77 L470.95 374.82 L481.1 375.4 L491.25 376.68 L501.4 378.61 L511.55 381.14 L521.7 384.19 L531.85 387.69 L542 391.65 L552.15 396.18 L562.3 401.43 L572.45 407.62 L582.6 414.68 L592.75 422.37 L602.9 430.54 L613.05 439.15 L623.2 448.11 L633.35 457.27 L643.5 466.42 L653.65 475.39 L663.8 484.08 L673.95 492.48 L684.1 500.63 L694.25 508.6 L704.4 516.47 L714.55 524.27 L724.7 532.04 L734.85 539.78 L745 547.51" fill="none" stroke="#1f77b4" stroke-width="1.2" stroke-opacity="0.92" stroke-linejoin="round" stroke-linecap="square"/>
<line x1="481.1" x2="481.1" y1="365.6" y2="698.6" stroke="#1f77b4" stroke-width="1.2" stroke-opacity="0.18"/>
<circle cx="481.1" cy="375.4" r="2.1" fill="#1f77b4"/>
</g>
<text transform="translate(593.44 372.3) scale(1 0.9566) rotate(-90)" text-anchor="end" font-size="10.1">log <tspan font-style="italic">n</tspan><tspan font-size="6.6" dy="1.5">H</tspan><tspan dy="-1.5"> = -1.57</tspan></text>
<text transform="translate(601.56 372.3) scale(1 0.9566) rotate(-90)" text-anchor="end" font-size="10.1">log <tspan font-style="italic">n</tspan><tspan font-size="6.6" dy="1.5">H</tspan><tspan dy="-1.5"> = -1.49</tspan></text>
<text transform="translate(611.71 372.3) scale(1 0.9566) rotate(-90)" text-anchor="end" font-size="10.1">log <tspan font-style="italic">n</tspan><tspan font-size="6.6" dy="1.5">H</tspan><tspan dy="-1.5"> = -1.39</tspan></text>
<text transform="translate(699 372.6) scale(1 0.9566) rotate(-90)" text-anchor="end" font-size="9.4">Z = −0.5, log <tspan font-style="italic">n</tspan><tspan font-size="6.6" dy="1.5">H</tspan><tspan dy="-1.5"> = -0.53</tspan></text>
<text transform="translate(430.15 489.4) scale(1 0.9566)" font-size="9">log <tspan font-style="italic">N</tspan><tspan font-size="6.3" dy="1.5">CII</tspan><tspan dy="-1.5"> = 13.83 ± 0.10</tspan></text>
<rect x="706.9" y="382.9" width="48.3" height="310.7" rx="2" ry="2" fill="#fff" fill-opacity="0.8" stroke="#ccc" stroke-opacity="0.8" stroke-width="0.8"/>
<text transform="translate(731.05 392.1) scale(1 0.9566)" text-anchor="middle" font-size="7.2">[Z/H]</text>
<line x1="710.2" x2="720.5" y1="402.5" y2="402.5" stroke="#1f77b4" stroke-width="1.1"/>
<text transform="translate(727.9 405.95) scale(1 0.9566)" font-size="9.7">−0.5</text>
<line x1="710.2" x2="720.5" y1="416.58" y2="416.58" stroke="#ff7f0e" stroke-width="1.1"/>
<text transform="translate(727.9 420.03) scale(1 0.9566)" font-size="9.7">−0.4</text>
<line x1="710.2" x2="720.5" y1="430.66" y2="430.66" stroke="#2ca02c" stroke-width="1.1"/>
<text transform="translate(727.9 434.11) scale(1 0.9566)" font-size="9.7">−0.3</text>
<line x1="710.2" x2="720.5" y1="444.74" y2="444.74" stroke="#d62728" stroke-width="1.1"/>
<text transform="translate(727.9 448.19) scale(1 0.9566)" font-size="9.7">−0.2</text>
<line x1="710.2" x2="720.5" y1="458.82" y2="458.82" stroke="#9467bd" stroke-width="1.1"/>
<text transform="translate(727.9 462.27) scale(1 0.9566)" font-size="9.7">−0.1</text>
<line x1="710.2" x2="720.5" y1="472.9" y2="472.9" stroke="#8c564b" stroke-width="1.1"/>
<text transform="translate(727.9 476.35) scale(1 0.9566)" font-size="9.7">0</text>
<line x1="710.2" x2="720.5" y1="486.98" y2="486.98" stroke="#e377c2" stroke-width="1.1"/>
<text transform="translate(727.9 490.43) scale(1 0.9566)" font-size="9.7">+0.1</text>
<line x1="710.2" x2="720.5" y1="501.06" y2="501.06" stroke="#7f7f7f" stroke-width="1.1"/>
<text transform="translate(727.9 504.51) scale(1 0.9566)" font-size="9.7">+0.2</text>
<line x1="710.2" x2="720.5" y1="515.14" y2="515.14" stroke="#bcbd22" stroke-width="1.1"/>
<text transform="translate(727.9 518.59) scale(1 0.9566)" font-size="9.7">+0.3</text>
<line x1="710.2" x2="720.5" y1="529.22" y2="529.22" stroke="#17becf" stroke-width="1.1"/>
<text transform="translate(727.9 532.67) scale(1 0.9566)" font-size="9.7">+0.4</text>
<line x1="710.2" x2="720.5" y1="543.3" y2="543.3" stroke="#1f77b4" stroke-width="1.1"/>
<text transform="translate(727.9 546.75) scale(1 0.9566)" font-size="9.7">+0.5</text>
<line x1="710.2" x2="720.5" y1="557.38" y2="557.38" stroke="#ff7f0e" stroke-width="1.1"/>
<text transform="translate(727.9 560.83) scale(1 0.9566)" font-size="9.7">+0.6</text>
<line x1="710.2" x2="720.5" y1="571.46" y2="571.46" stroke="#2ca02c" stroke-width="1.1"/>
<text transform="translate(727.9 574.91) scale(1 0.9566)" font-size="9.7">+0.7</text>
<line x1="710.2" x2="720.5" y1="585.54" y2="585.54" stroke="#d62728" stroke-width="1.1"/>
<text transform="translate(727.9 588.99) scale(1 0.9566)" font-size="9.7">+0.8</text>
<line x1="710.2" x2="720.5" y1="599.62" y2="599.62" stroke="#9467bd" stroke-width="1.1"/>
<text transform="translate(727.9 603.07) scale(1 0.9566)" font-size="9.7">+0.9</text>
<line x1="710.2" x2="720.5" y1="613.7" y2="613.7" stroke="#8c564b" stroke-width="1.1"/>
<text transform="translate(727.9 617.15) scale(1 0.9566)" font-size="9.7">+1.0</text>
<line x1="710.2" x2="720.5" y1="627.78" y2="627.78" stroke="#e377c2" stroke-width="1.1"/>
<text transform="translate(727.9 631.23) scale(1 0.9566)" font-size="9.7">+1.1</text>
<line x1="710.2" x2="720.5" y1="641.86" y2="641.86" stroke="#7f7f7f" stroke-width="1.1"/>
<text transform="translate(727.9 645.31) scale(1 0.9566)" font-size="9.7">+1.2</text>
<line x1="710.2" x2="720.5" y1="655.94" y2="655.94" stroke="#bcbd22" stroke-width="1.1"/>
<text transform="translate(727.9 659.39) scale(1 0.9566)" font-size="9.7">+1.3</text>
<line x1="710.2" x2="720.5" y1="670.02" y2="670.02" stroke="#17becf" stroke-width="1.1"/>
<text transform="translate(727.9 673.47) scale(1 0.9566)" font-size="9.7">+1.4</text>
<line x1="710.2" x2="720.5" y1="684.1" y2="684.1" stroke="#1f77b4" stroke-width="1.1"/>
<text transform="translate(727.9 687.55) scale(1 0.9566)" font-size="9.7">+1.5</text>
<line x1="425.3" y1="365.6" x2="425.3" y2="698.6" stroke="#000" stroke-width="1.0" stroke-opacity="0.47" stroke-linecap="square"/>
<line x1="425.3" y1="698.6" x2="760.3" y2="698.6" stroke="#000" stroke-width="1.0" stroke-opacity="0.47" stroke-linecap="square"/>
<line x1="760.3" y1="365.6" x2="760.3" y2="698.6" stroke="#000" stroke-width="1.0" stroke-opacity="0.47" stroke-linecap="square"/>
<line x1="425.3" y1="365.6" x2="760.3" y2="365.6" stroke="#000" stroke-width="1.0" stroke-opacity="0.47" stroke-linecap="square"/>
<line x1="440.5" x2="440.5" y1="699.1" y2="702.9" stroke="#000" stroke-width="1" stroke-opacity="0.95"/>
<text transform="translate(440.5 712.7) scale(1 0.9566)" text-anchor="middle" font-size="10">−3.0</text>
<line x1="491.25" x2="491.25" y1="699.1" y2="702.9" stroke="#000" stroke-width="1" stroke-opacity="0.95"/>
<text transform="translate(491.25 712.7) scale(1 0.9566)" text-anchor="middle" font-size="10">−2.5</text>
<line x1="542" x2="542" y1="699.1" y2="702.9" stroke="#000" stroke-width="1" stroke-opacity="0.95"/>
<text transform="translate(542 712.7) scale(1 0.9566)" text-anchor="middle" font-size="10">−2.0</text>
<line x1="592.75" x2="592.75" y1="699.1" y2="702.9" stroke="#000" stroke-width="1" stroke-opacity="0.95"/>
<text transform="translate(592.75 712.7) scale(1 0.9566)" text-anchor="middle" font-size="10">−1.5</text>
<line x1="643.5" x2="643.5" y1="699.1" y2="702.9" stroke="#000" stroke-width="1" stroke-opacity="0.95"/>
<text transform="translate(643.5 712.7) scale(1 0.9566)" text-anchor="middle" font-size="10">−1.0</text>
<line x1="694.25" x2="694.25" y1="699.1" y2="702.9" stroke="#000" stroke-width="1" stroke-opacity="0.95"/>
<text transform="translate(694.25 712.7) scale(1 0.9566)" text-anchor="middle" font-size="10">−0.5</text>
<line x1="745" x2="745" y1="699.1" y2="702.9" stroke="#000" stroke-width="1" stroke-opacity="0.95"/>
<text transform="translate(745 712.7) scale(1 0.9566)" text-anchor="middle" font-size="10">0.0</text>
<line x1="421.1" x2="425" y1="409" y2="409" stroke="#000" stroke-width="1" stroke-opacity="0.95"/>
<text transform="translate(419.3 412.6) scale(1 0.9566)" text-anchor="end" font-size="10">14.5</text>
<line x1="421.1" x2="425" y1="481.4" y2="481.4" stroke="#000" stroke-width="1" stroke-opacity="0.95"/>
<text transform="translate(419.3 485) scale(1 0.9566)" text-anchor="end" font-size="10">14.0</text>
<line x1="421.1" x2="425" y1="553.8" y2="553.8" stroke="#000" stroke-width="1" stroke-opacity="0.95"/>
<text transform="translate(419.3 557.4) scale(1 0.9566)" text-anchor="end" font-size="10">13.5</text>
<line x1="421.1" x2="425" y1="626.2" y2="626.2" stroke="#000" stroke-width="1" stroke-opacity="0.95"/>
<text transform="translate(419.3 629.8) scale(1 0.9566)" text-anchor="end" font-size="10">13.0</text>
<line x1="421.1" x2="425" y1="698.6" y2="698.6" stroke="#000" stroke-width="1" stroke-opacity="0.95"/>
<text transform="translate(419.3 702.2) scale(1 0.9566)" text-anchor="end" font-size="10">12.5</text>
<text transform="translate(592.8 725.4) scale(1 0.9566)" text-anchor="middle" font-size="9.8">log (<tspan font-style="italic">n</tspan><tspan font-size="7" dy="1.6">H</tspan><tspan dy="-1.6"> /cm</tspan><tspan font-size="7" dy="-3.8">−3</tspan><tspan dy="3.8">)</tspan></text>
<text transform="translate(393.3 532) scale(1 0.9566) rotate(-90)" text-anchor="middle" font-size="10">log (<tspan font-style="italic">N</tspan><tspan font-size="7" dy="1.6">CII</tspan><tspan dy="-1.6"> /cm</tspan><tspan font-size="7" dy="-3.8">−2</tspan><tspan dy="3.8">)</tspan></text>
</svg></body></html>
